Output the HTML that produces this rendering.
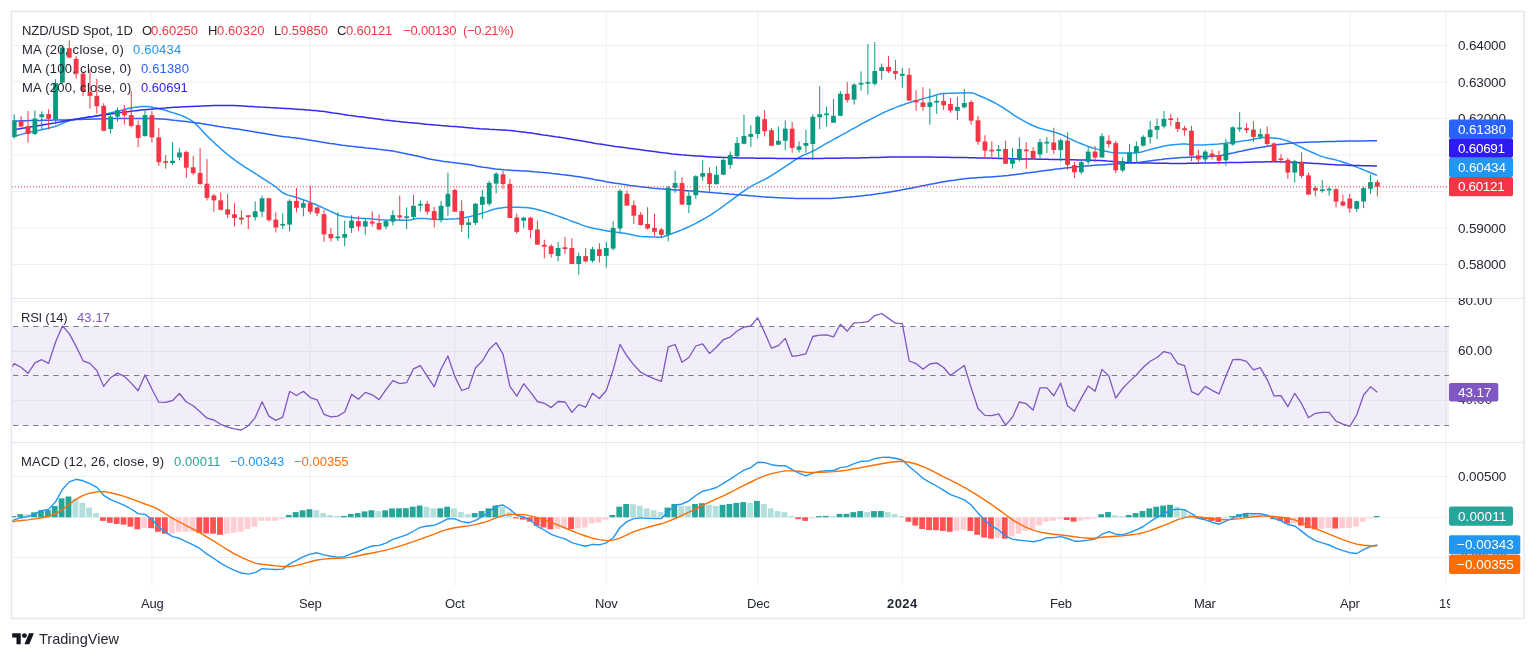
<!DOCTYPE html>
<html><head><meta charset="utf-8"><title>NZD/USD Spot chart</title>
<style>
html,body{margin:0;padding:0;background:#fff;}
body{width:1536px;height:659px;position:relative;overflow:hidden;font-family:"Liberation Sans",sans-serif;}
.t{position:absolute;white-space:pre;line-height:normal;will-change:transform;font-family:"Liberation Sans",sans-serif;}
.w{color:#fff;}
</style></head><body>
<svg width="1536" height="659" viewBox="0 0 1536 659" style="position:absolute;left:0;top:0">
<defs>
<clipPath id="cm"><rect x="12" y="12" width="1437" height="286.5"/></clipPath>
<clipPath id="cr"><rect x="12" y="298.5" width="1437" height="144.10000000000002"/></clipPath>
<clipPath id="cd"><rect x="12" y="442.6" width="1437" height="143.39999999999998"/></clipPath>
</defs>
<rect width="1536" height="659" fill="#fff"/>
<line x1="151.9" y1="12" x2="151.9" y2="586" stroke="#efeff2" stroke-width="1"/>
<line x1="310.2" y1="12" x2="310.2" y2="586" stroke="#efeff2" stroke-width="1"/>
<line x1="454.8" y1="12" x2="454.8" y2="586" stroke="#efeff2" stroke-width="1"/>
<line x1="606.3" y1="12" x2="606.3" y2="586" stroke="#efeff2" stroke-width="1"/>
<line x1="757.7" y1="12" x2="757.7" y2="586" stroke="#efeff2" stroke-width="1"/>
<line x1="902.3" y1="12" x2="902.3" y2="586" stroke="#efeff2" stroke-width="1"/>
<line x1="1060.7" y1="12" x2="1060.7" y2="586" stroke="#efeff2" stroke-width="1"/>
<line x1="1205.2" y1="12" x2="1205.2" y2="586" stroke="#efeff2" stroke-width="1"/>
<line x1="1349.8" y1="12" x2="1349.8" y2="586" stroke="#efeff2" stroke-width="1"/>
<line x1="1445.7" y1="12" x2="1445.7" y2="586" stroke="#efeff2" stroke-width="1"/>
<line x1="12" y1="45.5" x2="1449" y2="45.5" stroke="#efeff2" stroke-width="1"/>
<line x1="12" y1="82.0" x2="1449" y2="82.0" stroke="#efeff2" stroke-width="1"/>
<line x1="12" y1="118.5" x2="1449" y2="118.5" stroke="#efeff2" stroke-width="1"/>
<line x1="12" y1="155.0" x2="1449" y2="155.0" stroke="#efeff2" stroke-width="1"/>
<line x1="12" y1="191.5" x2="1449" y2="191.5" stroke="#efeff2" stroke-width="1"/>
<line x1="12" y1="228.0" x2="1449" y2="228.0" stroke="#efeff2" stroke-width="1"/>
<line x1="12" y1="264.5" x2="1449" y2="264.5" stroke="#efeff2" stroke-width="1"/>
<line x1="12" y1="301.7" x2="1449" y2="301.7" stroke="#efeff2" stroke-width="1"/>
<line x1="12" y1="351.4" x2="1449" y2="351.4" stroke="#efeff2" stroke-width="1"/>
<line x1="12" y1="400.3" x2="1449" y2="400.3" stroke="#efeff2" stroke-width="1"/>
<line x1="12" y1="476.5" x2="1449" y2="476.5" stroke="#efeff2" stroke-width="1"/>
<line x1="12" y1="517.3" x2="1449" y2="517.3" stroke="#efeff2" stroke-width="1"/>
<line x1="12" y1="557.5" x2="1449" y2="557.5" stroke="#efeff2" stroke-width="1"/>
<g clip-path="url(#cm)">
<path d="M12.2,136.8 L15.2,136.0 L18.2,135.2 L21.2,134.4 L24.2,133.6 L27.2,132.9 L30.2,132.2 L33.2,131.6 L36.2,130.9 L39.2,130.2 L42.2,129.6 L45.2,128.9 L48.2,128.2 L51.2,127.5 L54.2,126.7 L57.2,125.7 L60.2,124.4 L63.2,123.0 L66.2,121.7 L69.2,120.8 L72.2,120.1 L75.2,119.5 L78.2,119.1 L81.2,118.6 L84.2,118.1 L87.2,117.6 L90.2,117.0 L93.2,116.5 L96.2,115.9 L99.2,115.4 L102.2,114.8 L105.2,114.1 L108.2,113.5 L111.2,112.8 L114.2,112.1 L117.2,111.4 L120.2,110.6 L123.2,109.8 L126.2,109.0 L129.2,108.3 L132.2,107.7 L135.2,107.3 L138.2,106.9 L141.2,106.6 L144.2,106.4 L147.2,106.4 L150.2,106.8 L153.2,107.4 L156.2,108.0 L159.2,108.7 L162.2,109.5 L165.2,110.3 L168.2,111.2 L171.2,112.2 L174.2,113.1 L177.2,114.0 L180.2,115.1 L183.2,116.2 L186.2,117.6 L189.2,119.2 L192.2,121.1 L195.2,123.5 L198.2,126.4 L201.2,129.6 L204.2,133.0 L207.2,136.1 L210.2,139.0 L213.2,141.8 L216.2,144.6 L219.2,147.3 L222.2,150.0 L225.2,152.6 L228.2,155.0 L231.2,157.4 L234.2,159.7 L237.2,161.8 L240.2,163.9 L243.2,165.9 L246.2,167.8 L249.2,169.7 L252.2,171.6 L255.2,173.5 L258.2,175.5 L261.2,177.4 L264.2,179.3 L267.2,181.2 L270.2,183.1 L273.2,185.1 L276.2,187.2 L279.2,189.9 L282.2,192.4 L285.2,194.0 L288.2,195.1 L291.2,196.0 L294.2,196.8 L297.2,197.7 L300.2,198.7 L303.2,199.8 L306.2,200.8 L309.2,201.9 L312.2,203.1 L315.2,204.3 L318.2,205.7 L321.2,207.0 L324.2,208.4 L327.2,209.7 L330.2,211.1 L333.2,212.5 L336.2,214.0 L339.2,215.2 L342.2,216.1 L345.2,216.7 L348.2,217.1 L351.2,217.4 L354.2,217.7 L357.2,218.0 L360.2,218.2 L363.2,218.4 L366.2,218.6 L369.2,218.8 L372.2,219.1 L375.2,219.3 L378.2,219.6 L381.2,219.8 L384.2,219.9 L387.2,220.0 L390.2,220.1 L393.2,220.1 L396.2,220.1 L399.2,220.2 L402.2,220.2 L405.2,220.2 L408.2,220.1 L411.2,219.7 L414.2,219.1 L417.2,218.6 L420.2,218.4 L423.2,218.5 L426.2,218.6 L429.2,218.9 L432.2,219.1 L435.2,219.3 L438.2,219.4 L441.2,219.4 L444.2,219.3 L447.2,219.2 L450.2,219.1 L453.2,218.9 L456.2,218.7 L459.2,218.4 L462.2,218.1 L465.2,217.6 L468.2,216.9 L471.2,216.2 L474.2,215.4 L477.2,214.6 L480.2,213.8 L483.2,212.9 L486.2,211.9 L489.2,210.8 L492.2,209.8 L495.2,208.9 L498.2,208.3 L501.2,207.9 L504.2,207.6 L507.2,207.3 L510.2,207.2 L513.2,207.2 L516.2,207.3 L519.2,207.3 L522.2,207.4 L525.2,207.5 L528.2,207.7 L531.2,208.2 L534.2,208.8 L537.2,209.5 L540.2,210.3 L543.2,211.1 L546.2,212.0 L549.2,213.0 L552.2,214.0 L555.2,215.1 L558.2,216.1 L561.2,217.2 L564.2,218.3 L567.2,219.4 L570.2,220.6 L573.2,221.7 L576.2,222.8 L579.2,223.9 L582.2,225.1 L585.2,226.1 L588.2,227.0 L591.2,227.8 L594.2,228.4 L597.2,229.1 L600.2,229.6 L603.2,230.2 L606.2,230.7 L609.2,231.2 L612.2,231.7 L615.2,232.1 L618.2,232.5 L621.2,232.9 L624.2,233.3 L627.2,233.8 L630.2,234.4 L633.2,235.1 L636.2,235.7 L639.2,236.2 L642.2,236.5 L645.2,236.7 L648.2,236.8 L651.2,237.0 L654.2,237.1 L657.2,237.2 L660.2,237.2 L663.2,236.8 L666.2,235.7 L669.2,234.6 L672.2,233.5 L675.2,232.4 L678.2,231.3 L681.2,230.1 L684.2,228.8 L687.2,227.5 L690.2,226.1 L693.2,224.6 L696.2,223.1 L699.2,221.5 L702.2,219.9 L705.2,218.2 L708.2,216.4 L711.2,214.6 L714.2,212.6 L717.2,210.5 L720.2,208.4 L723.2,206.2 L726.2,204.0 L729.2,201.8 L732.2,199.7 L735.2,197.4 L738.2,195.2 L741.2,192.9 L744.2,190.8 L747.2,188.8 L750.2,186.9 L753.2,185.2 L756.2,183.7 L759.2,182.2 L762.2,180.7 L765.2,179.1 L768.2,177.5 L771.2,175.7 L774.2,173.8 L777.2,171.8 L780.2,169.8 L783.2,167.8 L786.2,165.8 L789.2,163.8 L792.2,161.8 L795.2,159.9 L798.2,158.0 L801.2,156.3 L804.2,154.9 L807.2,153.7 L810.2,152.4 L813.2,150.9 L816.2,149.3 L819.2,147.6 L822.2,145.9 L825.2,144.1 L828.2,142.4 L831.2,140.8 L834.2,139.1 L837.2,137.5 L840.2,135.9 L843.2,134.2 L846.2,132.6 L849.2,130.9 L852.2,129.2 L855.2,127.6 L858.2,125.9 L861.2,124.2 L864.2,122.6 L867.2,121.0 L870.2,119.4 L873.2,117.8 L876.2,116.3 L879.2,114.8 L882.2,113.3 L885.2,111.9 L888.2,110.6 L891.2,109.3 L894.2,108.1 L897.2,106.9 L900.2,105.7 L903.2,104.7 L906.2,103.6 L909.2,102.7 L912.2,101.8 L915.2,100.9 L918.2,100.1 L921.2,99.2 L924.2,98.4 L927.2,97.6 L930.2,96.8 L933.2,96.0 L936.2,95.0 L939.2,94.1 L942.2,93.5 L945.2,93.4 L948.2,93.3 L951.2,93.2 L954.2,93.2 L957.2,93.1 L960.2,93.0 L963.2,92.9 L966.2,92.8 L969.2,92.7 L972.2,92.9 L975.2,93.9 L978.2,95.3 L981.2,96.5 L984.2,97.8 L987.2,99.1 L990.2,100.5 L993.2,102.0 L996.2,103.6 L999.2,105.3 L1002.2,107.1 L1005.2,109.1 L1008.2,111.2 L1011.2,113.2 L1014.2,115.3 L1017.2,117.2 L1020.2,118.9 L1023.2,120.6 L1026.2,122.2 L1029.2,123.8 L1032.2,125.2 L1035.2,126.5 L1038.2,127.7 L1041.2,128.6 L1044.2,129.5 L1047.2,130.3 L1050.2,131.0 L1053.2,131.8 L1056.2,132.7 L1059.2,133.7 L1062.2,134.9 L1065.2,136.3 L1068.2,137.8 L1071.2,139.3 L1074.2,140.8 L1077.2,142.1 L1080.2,143.3 L1083.2,144.5 L1086.2,145.6 L1089.2,146.7 L1092.2,147.7 L1095.2,148.6 L1098.2,149.4 L1101.2,150.1 L1104.2,150.9 L1107.2,151.6 L1110.2,152.2 L1113.2,152.7 L1116.2,152.9 L1119.2,153.0 L1122.2,153.0 L1125.2,153.0 L1128.2,153.0 L1131.2,153.0 L1134.2,153.0 L1137.2,152.8 L1140.2,152.2 L1143.2,151.5 L1146.2,150.6 L1149.2,149.7 L1152.2,148.9 L1155.2,148.2 L1158.2,147.5 L1161.2,146.7 L1164.2,145.9 L1167.2,145.4 L1170.2,145.0 L1173.2,144.7 L1176.2,144.5 L1179.2,144.3 L1182.2,144.1 L1185.2,144.1 L1188.2,144.3 L1191.2,144.6 L1194.2,145.0 L1197.2,145.1 L1200.2,145.1 L1203.2,145.0 L1206.2,144.8 L1209.2,144.6 L1212.2,144.4 L1215.2,144.2 L1218.2,144.0 L1221.2,143.7 L1224.2,143.4 L1227.2,143.1 L1230.2,142.7 L1233.2,142.3 L1236.2,141.9 L1239.2,141.5 L1242.2,141.1 L1245.2,140.6 L1248.2,140.2 L1251.2,139.7 L1254.2,139.1 L1257.2,138.5 L1260.2,137.9 L1263.2,137.6 L1266.2,137.6 L1269.2,137.8 L1272.2,138.0 L1275.2,138.2 L1278.2,138.6 L1281.2,139.1 L1284.2,139.9 L1287.2,140.8 L1290.2,141.9 L1293.2,143.3 L1296.2,144.8 L1299.2,146.4 L1302.2,147.8 L1305.2,149.2 L1308.2,150.6 L1311.2,152.0 L1314.2,153.3 L1317.2,154.6 L1320.2,155.9 L1323.2,156.9 L1326.2,157.8 L1329.2,158.5 L1332.2,159.1 L1335.2,159.8 L1338.2,160.6 L1341.2,161.5 L1344.2,162.5 L1347.2,163.5 L1350.2,164.6 L1353.2,165.7 L1356.2,166.8 L1359.2,168.1 L1362.2,169.3 L1365.2,170.6 L1368.2,171.8 L1371.2,173.0 L1374.2,174.2 L1377.0,175.3" fill="none" stroke="#2196f3" stroke-width="1.5" stroke-linejoin="round" stroke-linecap="butt"/>
<path d="M12.2,121.0 L15.2,120.9 L18.2,120.9 L21.2,120.8 L24.2,120.7 L27.2,120.7 L30.2,120.6 L33.2,120.5 L36.2,120.5 L39.2,120.4 L42.2,120.3 L45.2,120.3 L48.2,120.2 L51.2,120.2 L54.2,120.1 L57.2,120.0 L60.2,120.0 L63.2,119.9 L66.2,119.9 L69.2,119.8 L72.2,119.7 L75.2,119.6 L78.2,119.5 L81.2,119.4 L84.2,119.3 L87.2,119.2 L90.2,119.2 L93.2,119.1 L96.2,119.0 L99.2,118.9 L102.2,118.8 L105.2,118.7 L108.2,118.7 L111.2,118.6 L114.2,118.6 L117.2,118.5 L120.2,118.5 L123.2,118.4 L126.2,118.4 L129.2,118.4 L132.2,118.4 L135.2,118.4 L138.2,118.4 L141.2,118.4 L144.2,118.5 L147.2,118.5 L150.2,118.5 L153.2,118.6 L156.2,118.7 L159.2,118.9 L162.2,119.1 L165.2,119.3 L168.2,119.6 L171.2,119.9 L174.2,120.3 L177.2,120.6 L180.2,120.9 L183.2,121.2 L186.2,121.6 L189.2,122.0 L192.2,122.3 L195.2,122.7 L198.2,123.1 L201.2,123.6 L204.2,124.0 L207.2,124.5 L210.2,125.0 L213.2,125.5 L216.2,126.0 L219.2,126.5 L222.2,126.9 L225.2,127.4 L228.2,127.8 L231.2,128.3 L234.2,128.7 L237.2,129.1 L240.2,129.5 L243.2,130.0 L246.2,130.5 L249.2,131.0 L252.2,131.5 L255.2,132.1 L258.2,132.6 L261.2,133.1 L264.2,133.6 L267.2,134.1 L270.2,134.6 L273.2,135.1 L276.2,135.6 L279.2,136.0 L282.2,136.4 L285.2,136.8 L288.2,137.1 L291.2,137.5 L294.2,137.8 L297.2,138.2 L300.2,138.6 L303.2,139.1 L306.2,139.5 L309.2,140.0 L312.2,140.5 L315.2,141.0 L318.2,141.5 L321.2,142.0 L324.2,142.4 L327.2,142.9 L330.2,143.4 L333.2,143.8 L336.2,144.3 L339.2,144.7 L342.2,145.2 L345.2,145.5 L348.2,145.9 L351.2,146.3 L354.2,146.6 L357.2,146.9 L360.2,147.2 L363.2,147.5 L366.2,147.9 L369.2,148.2 L372.2,148.5 L375.2,148.8 L378.2,149.2 L381.2,149.5 L384.2,149.9 L387.2,150.3 L390.2,150.7 L393.2,151.1 L396.2,151.7 L399.2,152.2 L402.2,152.9 L405.2,153.5 L408.2,154.2 L411.2,154.8 L414.2,155.5 L417.2,156.1 L420.2,156.8 L423.2,157.5 L426.2,158.3 L429.2,158.9 L432.2,159.6 L435.2,160.1 L438.2,160.6 L441.2,161.1 L444.2,161.5 L447.2,161.8 L450.2,162.2 L453.2,162.5 L456.2,162.9 L459.2,163.3 L462.2,163.7 L465.2,164.1 L468.2,164.6 L471.2,165.1 L474.2,165.6 L477.2,166.2 L480.2,166.7 L483.2,167.2 L486.2,167.6 L489.2,168.1 L492.2,168.5 L495.2,168.9 L498.2,169.2 L501.2,169.5 L504.2,169.8 L507.2,170.0 L510.2,170.2 L513.2,170.4 L516.2,170.6 L519.2,170.8 L522.2,171.0 L525.2,171.1 L528.2,171.3 L531.2,171.5 L534.2,171.8 L537.2,172.0 L540.2,172.3 L543.2,172.5 L546.2,172.8 L549.2,173.1 L552.2,173.5 L555.2,173.8 L558.2,174.1 L561.2,174.5 L564.2,174.8 L567.2,175.2 L570.2,175.6 L573.2,176.0 L576.2,176.4 L579.2,176.8 L582.2,177.3 L585.2,177.7 L588.2,178.3 L591.2,178.8 L594.2,179.4 L597.2,179.9 L600.2,180.5 L603.2,181.1 L606.2,181.7 L609.2,182.2 L612.2,182.7 L615.2,183.2 L618.2,183.6 L621.2,184.1 L624.2,184.5 L627.2,184.9 L630.2,185.4 L633.2,185.8 L636.2,186.2 L639.2,186.6 L642.2,186.9 L645.2,187.3 L648.2,187.6 L651.2,188.0 L654.2,188.3 L657.2,188.5 L660.2,188.8 L663.2,189.0 L666.2,189.3 L669.2,189.5 L672.2,189.7 L675.2,189.9 L678.2,190.1 L681.2,190.3 L684.2,190.5 L687.2,190.7 L690.2,190.9 L693.2,191.1 L696.2,191.4 L699.2,191.6 L702.2,191.8 L705.2,192.0 L708.2,192.3 L711.2,192.5 L714.2,192.8 L717.2,193.0 L720.2,193.2 L723.2,193.5 L726.2,193.7 L729.2,194.0 L732.2,194.2 L735.2,194.5 L738.2,194.7 L741.2,195.0 L744.2,195.2 L747.2,195.5 L750.2,195.8 L753.2,196.0 L756.2,196.3 L759.2,196.5 L762.2,196.8 L765.2,197.0 L768.2,197.2 L771.2,197.3 L774.2,197.5 L777.2,197.7 L780.2,197.8 L783.2,198.0 L786.2,198.1 L789.2,198.2 L792.2,198.3 L795.2,198.4 L798.2,198.4 L801.2,198.4 L804.2,198.4 L807.2,198.4 L810.2,198.4 L813.2,198.4 L816.2,198.4 L819.2,198.4 L822.2,198.4 L825.2,198.4 L828.2,198.4 L831.2,198.4 L834.2,198.2 L837.2,198.0 L840.2,197.8 L843.2,197.6 L846.2,197.3 L849.2,197.1 L852.2,196.8 L855.2,196.6 L858.2,196.2 L861.2,195.9 L864.2,195.6 L867.2,195.2 L870.2,194.9 L873.2,194.5 L876.2,194.1 L879.2,193.6 L882.2,193.2 L885.2,192.7 L888.2,192.2 L891.2,191.7 L894.2,191.2 L897.2,190.7 L900.2,190.2 L903.2,189.6 L906.2,189.0 L909.2,188.5 L912.2,187.9 L915.2,187.3 L918.2,186.7 L921.2,186.1 L924.2,185.5 L927.2,184.9 L930.2,184.3 L933.2,183.8 L936.2,183.2 L939.2,182.6 L942.2,182.1 L945.2,181.6 L948.2,181.1 L951.2,180.6 L954.2,180.2 L957.2,179.7 L960.2,179.3 L963.2,178.9 L966.2,178.6 L969.2,178.3 L972.2,178.1 L975.2,177.9 L978.2,177.6 L981.2,177.5 L984.2,177.3 L987.2,177.1 L990.2,176.9 L993.2,176.7 L996.2,176.5 L999.2,176.3 L1002.2,176.1 L1005.2,175.8 L1008.2,175.5 L1011.2,175.1 L1014.2,174.7 L1017.2,174.3 L1020.2,173.9 L1023.2,173.5 L1026.2,173.1 L1029.2,172.7 L1032.2,172.3 L1035.2,171.9 L1038.2,171.5 L1041.2,171.1 L1044.2,170.7 L1047.2,170.3 L1050.2,169.9 L1053.2,169.5 L1056.2,169.1 L1059.2,168.8 L1062.2,168.4 L1065.2,168.1 L1068.2,167.8 L1071.2,167.4 L1074.2,167.1 L1077.2,166.8 L1080.2,166.5 L1083.2,166.3 L1086.2,166.0 L1089.2,165.7 L1092.2,165.5 L1095.2,165.3 L1098.2,165.1 L1101.2,164.9 L1104.2,164.7 L1107.2,164.5 L1110.2,164.3 L1113.2,164.1 L1116.2,163.9 L1119.2,163.7 L1122.2,163.5 L1125.2,163.3 L1128.2,163.1 L1131.2,162.9 L1134.2,162.7 L1137.2,162.5 L1140.2,162.2 L1143.2,161.8 L1146.2,161.4 L1149.2,161.0 L1152.2,160.6 L1155.2,160.2 L1158.2,159.8 L1161.2,159.5 L1164.2,159.1 L1167.2,158.8 L1170.2,158.5 L1173.2,158.2 L1176.2,158.0 L1179.2,157.8 L1182.2,157.6 L1185.2,157.4 L1188.2,157.3 L1191.2,157.2 L1194.2,157.0 L1197.2,156.9 L1200.2,156.8 L1203.2,156.6 L1206.2,156.5 L1209.2,156.4 L1212.2,156.2 L1215.2,156.0 L1218.2,155.8 L1221.2,155.4 L1224.2,154.8 L1227.2,154.2 L1230.2,153.5 L1233.2,152.9 L1236.2,152.2 L1239.2,151.6 L1242.2,151.0 L1245.2,150.3 L1248.2,149.7 L1251.2,149.1 L1254.2,148.5 L1257.2,147.9 L1260.2,147.4 L1263.2,146.9 L1266.2,146.4 L1269.2,145.9 L1272.2,145.4 L1275.2,145.0 L1278.2,144.6 L1281.2,144.2 L1284.2,143.9 L1287.2,143.5 L1290.2,143.2 L1293.2,142.9 L1296.2,142.7 L1299.2,142.6 L1302.2,142.5 L1305.2,142.3 L1308.2,142.2 L1311.2,142.1 L1314.2,142.0 L1317.2,141.9 L1320.2,141.8 L1323.2,141.7 L1326.2,141.6 L1329.2,141.5 L1332.2,141.5 L1335.2,141.4 L1338.2,141.3 L1341.2,141.2 L1344.2,141.2 L1347.2,141.1 L1350.2,141.1 L1353.2,141.0 L1356.2,141.0 L1359.2,140.9 L1362.2,140.9 L1365.2,140.9 L1368.2,140.8 L1371.2,140.8 L1374.2,140.8 L1377.0,140.8" fill="none" stroke="#2962ff" stroke-width="1.5" stroke-linejoin="round" stroke-linecap="butt"/>
<path d="M12.2,130.0 L15.2,129.5 L18.2,129.1 L21.2,128.6 L24.2,128.1 L27.2,127.6 L30.2,127.1 L33.2,126.6 L36.2,126.1 L39.2,125.6 L42.2,125.1 L45.2,124.6 L48.2,124.1 L51.2,123.5 L54.2,123.0 L57.2,122.4 L60.2,121.9 L63.2,121.3 L66.2,120.8 L69.2,120.2 L72.2,119.7 L75.2,119.2 L78.2,118.7 L81.2,118.2 L84.2,117.8 L87.2,117.3 L90.2,116.8 L93.2,116.4 L96.2,115.9 L99.2,115.5 L102.2,115.1 L105.2,114.7 L108.2,114.2 L111.2,113.8 L114.2,113.4 L117.2,113.0 L120.2,112.6 L123.2,112.3 L126.2,111.9 L129.2,111.5 L132.2,111.1 L135.2,110.8 L138.2,110.4 L141.2,110.1 L144.2,109.8 L147.2,109.5 L150.2,109.2 L153.2,108.9 L156.2,108.7 L159.2,108.4 L162.2,108.2 L165.2,108.0 L168.2,107.7 L171.2,107.5 L174.2,107.3 L177.2,107.2 L180.2,107.0 L183.2,106.8 L186.2,106.7 L189.2,106.5 L192.2,106.4 L195.2,106.3 L198.2,106.2 L201.2,106.0 L204.2,105.9 L207.2,105.8 L210.2,105.7 L213.2,105.6 L216.2,105.5 L219.2,105.5 L222.2,105.4 L225.2,105.4 L228.2,105.4 L231.2,105.5 L234.2,105.5 L237.2,105.7 L240.2,105.8 L243.2,106.0 L246.2,106.2 L249.2,106.4 L252.2,106.6 L255.2,106.8 L258.2,106.9 L261.2,107.1 L264.2,107.2 L267.2,107.4 L270.2,107.6 L273.2,107.7 L276.2,107.9 L279.2,108.1 L282.2,108.2 L285.2,108.4 L288.2,108.6 L291.2,108.8 L294.2,109.0 L297.2,109.2 L300.2,109.4 L303.2,109.6 L306.2,109.9 L309.2,110.1 L312.2,110.4 L315.2,110.6 L318.2,110.9 L321.2,111.2 L324.2,111.6 L327.2,112.0 L330.2,112.4 L333.2,112.9 L336.2,113.3 L339.2,113.8 L342.2,114.3 L345.2,114.7 L348.2,115.2 L351.2,115.6 L354.2,116.0 L357.2,116.4 L360.2,116.7 L363.2,117.1 L366.2,117.5 L369.2,117.9 L372.2,118.3 L375.2,118.7 L378.2,119.1 L381.2,119.5 L384.2,119.9 L387.2,120.2 L390.2,120.6 L393.2,120.9 L396.2,121.3 L399.2,121.6 L402.2,121.9 L405.2,122.2 L408.2,122.5 L411.2,122.7 L414.2,123.0 L417.2,123.3 L420.2,123.6 L423.2,123.9 L426.2,124.2 L429.2,124.4 L432.2,124.7 L435.2,125.0 L438.2,125.2 L441.2,125.5 L444.2,125.7 L447.2,125.9 L450.2,126.2 L453.2,126.4 L456.2,126.6 L459.2,126.9 L462.2,127.1 L465.2,127.4 L468.2,127.7 L471.2,128.0 L474.2,128.3 L477.2,128.5 L480.2,128.8 L483.2,129.0 L486.2,129.1 L489.2,129.3 L492.2,129.4 L495.2,129.6 L498.2,129.7 L501.2,129.9 L504.2,130.0 L507.2,130.3 L510.2,130.5 L513.2,130.8 L516.2,131.2 L519.2,131.5 L522.2,131.9 L525.2,132.3 L528.2,132.7 L531.2,133.1 L534.2,133.5 L537.2,133.9 L540.2,134.4 L543.2,134.9 L546.2,135.3 L549.2,135.8 L552.2,136.2 L555.2,136.7 L558.2,137.1 L561.2,137.5 L564.2,138.0 L567.2,138.4 L570.2,138.9 L573.2,139.4 L576.2,139.9 L579.2,140.4 L582.2,141.0 L585.2,141.5 L588.2,142.1 L591.2,142.6 L594.2,143.2 L597.2,143.7 L600.2,144.1 L603.2,144.6 L606.2,145.1 L609.2,145.5 L612.2,145.9 L615.2,146.4 L618.2,146.8 L621.2,147.2 L624.2,147.6 L627.2,148.0 L630.2,148.4 L633.2,148.8 L636.2,149.2 L639.2,149.6 L642.2,150.0 L645.2,150.4 L648.2,150.8 L651.2,151.2 L654.2,151.6 L657.2,152.0 L660.2,152.4 L663.2,152.8 L666.2,153.1 L669.2,153.5 L672.2,153.9 L675.2,154.2 L678.2,154.5 L681.2,154.8 L684.2,155.0 L687.2,155.3 L690.2,155.5 L693.2,155.7 L696.2,155.9 L699.2,156.1 L702.2,156.3 L705.2,156.5 L708.2,156.7 L711.2,156.9 L714.2,157.0 L717.2,157.2 L720.2,157.3 L723.2,157.4 L726.2,157.5 L729.2,157.6 L732.2,157.7 L735.2,157.8 L738.2,157.9 L741.2,157.9 L744.2,158.0 L747.2,158.0 L750.2,158.1 L753.2,158.1 L756.2,158.2 L759.2,158.2 L762.2,158.2 L765.2,158.3 L768.2,158.3 L771.2,158.3 L774.2,158.3 L777.2,158.4 L780.2,158.4 L783.2,158.4 L786.2,158.5 L789.2,158.5 L792.2,158.5 L795.2,158.5 L798.2,158.5 L801.2,158.5 L804.2,158.5 L807.2,158.5 L810.2,158.5 L813.2,158.4 L816.2,158.4 L819.2,158.4 L822.2,158.4 L825.2,158.3 L828.2,158.3 L831.2,158.3 L834.2,158.2 L837.2,158.2 L840.2,158.2 L843.2,158.1 L846.2,158.1 L849.2,158.0 L852.2,158.0 L855.2,157.9 L858.2,157.9 L861.2,157.8 L864.2,157.8 L867.2,157.7 L870.2,157.6 L873.2,157.6 L876.2,157.5 L879.2,157.4 L882.2,157.3 L885.2,157.2 L888.2,157.1 L891.2,157.1 L894.2,157.0 L897.2,156.9 L900.2,156.9 L903.2,156.9 L906.2,156.9 L909.2,156.9 L912.2,156.9 L915.2,156.9 L918.2,157.0 L921.2,157.0 L924.2,157.0 L927.2,157.1 L930.2,157.1 L933.2,157.1 L936.2,157.2 L939.2,157.2 L942.2,157.2 L945.2,157.3 L948.2,157.3 L951.2,157.4 L954.2,157.4 L957.2,157.5 L960.2,157.5 L963.2,157.6 L966.2,157.6 L969.2,157.7 L972.2,157.7 L975.2,157.8 L978.2,157.9 L981.2,157.9 L984.2,158.0 L987.2,158.1 L990.2,158.1 L993.2,158.2 L996.2,158.3 L999.2,158.4 L1002.2,158.5 L1005.2,158.6 L1008.2,158.6 L1011.2,158.7 L1014.2,158.8 L1017.2,158.9 L1020.2,158.9 L1023.2,159.0 L1026.2,159.0 L1029.2,159.1 L1032.2,159.1 L1035.2,159.1 L1038.2,159.2 L1041.2,159.2 L1044.2,159.3 L1047.2,159.3 L1050.2,159.4 L1053.2,159.4 L1056.2,159.5 L1059.2,159.5 L1062.2,159.6 L1065.2,159.6 L1068.2,159.7 L1071.2,159.7 L1074.2,159.8 L1077.2,159.9 L1080.2,159.9 L1083.2,160.0 L1086.2,160.1 L1089.2,160.2 L1092.2,160.3 L1095.2,160.4 L1098.2,160.5 L1101.2,160.6 L1104.2,160.8 L1107.2,161.1 L1110.2,161.3 L1113.2,161.6 L1116.2,161.8 L1119.2,162.0 L1122.2,162.1 L1125.2,162.3 L1128.2,162.4 L1131.2,162.6 L1134.2,162.7 L1137.2,162.8 L1140.2,162.9 L1143.2,162.9 L1146.2,163.0 L1149.2,163.1 L1152.2,163.1 L1155.2,163.2 L1158.2,163.2 L1161.2,163.3 L1164.2,163.3 L1167.2,163.3 L1170.2,163.4 L1173.2,163.4 L1176.2,163.4 L1179.2,163.4 L1182.2,163.4 L1185.2,163.4 L1188.2,163.3 L1191.2,163.3 L1194.2,163.2 L1197.2,163.2 L1200.2,163.1 L1203.2,163.1 L1206.2,163.0 L1209.2,162.9 L1212.2,162.9 L1215.2,162.8 L1218.2,162.8 L1221.2,162.7 L1224.2,162.7 L1227.2,162.6 L1230.2,162.6 L1233.2,162.5 L1236.2,162.5 L1239.2,162.4 L1242.2,162.4 L1245.2,162.3 L1248.2,162.3 L1251.2,162.2 L1254.2,162.1 L1257.2,162.1 L1260.2,162.0 L1263.2,161.9 L1266.2,161.8 L1269.2,161.8 L1272.2,161.7 L1275.2,161.7 L1278.2,161.7 L1281.2,161.8 L1284.2,161.9 L1287.2,162.1 L1290.2,162.2 L1293.2,162.4 L1296.2,162.5 L1299.2,162.7 L1302.2,162.8 L1305.2,163.0 L1308.2,163.1 L1311.2,163.3 L1314.2,163.5 L1317.2,163.6 L1320.2,163.8 L1323.2,164.0 L1326.2,164.2 L1329.2,164.4 L1332.2,164.6 L1335.2,164.7 L1338.2,164.9 L1341.2,165.0 L1344.2,165.1 L1347.2,165.3 L1350.2,165.4 L1353.2,165.5 L1356.2,165.5 L1359.2,165.6 L1362.2,165.7 L1365.2,165.7 L1368.2,165.8 L1371.2,165.8 L1374.2,165.9 L1377.0,165.9" fill="none" stroke="#3829f2" stroke-width="1.5" stroke-linejoin="round" stroke-linecap="butt"/>
<rect x="13.71" y="114.3" width="1" height="24.5" fill="#089981"/>
<rect x="11.81" y="120.6" width="4.8" height="16.2" fill="#089981"/>
<rect x="20.59" y="116.1" width="1" height="11.4" fill="#f23645"/>
<rect x="18.69" y="121.2" width="4.8" height="5.3" fill="#f23645"/>
<rect x="27.48" y="111.1" width="1" height="31.6" fill="#f23645"/>
<rect x="25.58" y="126.1" width="4.8" height="7.9" fill="#f23645"/>
<rect x="34.36" y="110.3" width="1" height="24.7" fill="#089981"/>
<rect x="32.46" y="118.6" width="4.8" height="15.4" fill="#089981"/>
<rect x="41.25" y="111.3" width="1" height="18.5" fill="#089981"/>
<rect x="39.35" y="114.3" width="4.8" height="2.8" fill="#089981"/>
<rect x="48.13" y="109.2" width="1" height="20.3" fill="#f23645"/>
<rect x="46.23" y="114.1" width="4.8" height="4.7" fill="#f23645"/>
<rect x="55.02" y="79.2" width="1" height="45.0" fill="#089981"/>
<rect x="53.12" y="83.1" width="4.8" height="36.5" fill="#089981"/>
<rect x="61.90" y="46.6" width="1" height="36.5" fill="#089981"/>
<rect x="60.00" y="47.6" width="4.8" height="35.1" fill="#089981"/>
<rect x="68.79" y="40.3" width="1" height="18.1" fill="#f23645"/>
<rect x="66.89" y="48.2" width="4.8" height="9.3" fill="#f23645"/>
<rect x="75.67" y="56.1" width="1" height="22.5" fill="#f23645"/>
<rect x="73.77" y="58.9" width="4.8" height="14.8" fill="#f23645"/>
<rect x="82.56" y="71.7" width="1" height="24.3" fill="#f23645"/>
<rect x="80.66" y="73.6" width="4.8" height="17.8" fill="#f23645"/>
<rect x="89.44" y="69.3" width="1" height="39.4" fill="#f23645"/>
<rect x="87.54" y="92.0" width="4.8" height="3.9" fill="#f23645"/>
<rect x="96.32" y="78.8" width="1" height="34.9" fill="#f23645"/>
<rect x="94.42" y="95.9" width="4.8" height="10.3" fill="#f23645"/>
<rect x="103.21" y="103.2" width="1" height="28.2" fill="#f23645"/>
<rect x="101.31" y="105.8" width="4.8" height="25.0" fill="#f23645"/>
<rect x="110.09" y="112.3" width="1" height="21.3" fill="#089981"/>
<rect x="108.19" y="116.6" width="4.8" height="12.4" fill="#089981"/>
<rect x="116.98" y="107.4" width="1" height="14.2" fill="#089981"/>
<rect x="115.08" y="110.1" width="4.8" height="6.5" fill="#089981"/>
<rect x="123.86" y="104.8" width="1" height="19.7" fill="#f23645"/>
<rect x="121.96" y="110.3" width="4.8" height="4.9" fill="#f23645"/>
<rect x="130.75" y="91.0" width="1" height="36.5" fill="#f23645"/>
<rect x="128.85" y="115.1" width="4.8" height="10.8" fill="#f23645"/>
<rect x="137.63" y="120.6" width="1" height="26.6" fill="#f23645"/>
<rect x="135.73" y="125.1" width="4.8" height="12.8" fill="#f23645"/>
<rect x="144.52" y="108.8" width="1" height="28.0" fill="#089981"/>
<rect x="142.62" y="115.1" width="4.8" height="20.9" fill="#089981"/>
<rect x="151.40" y="111.1" width="1" height="31.6" fill="#f23645"/>
<rect x="149.50" y="115.1" width="4.8" height="22.3" fill="#f23645"/>
<rect x="158.28" y="127.9" width="1" height="37.9" fill="#f23645"/>
<rect x="156.38" y="137.4" width="4.8" height="24.7" fill="#f23645"/>
<rect x="165.17" y="155.1" width="1" height="13.6" fill="#f23645"/>
<rect x="163.27" y="161.2" width="4.8" height="1.7" fill="#f23645"/>
<rect x="172.05" y="142.3" width="1" height="22.7" fill="#089981"/>
<rect x="170.15" y="160.8" width="4.8" height="2.2" fill="#089981"/>
<rect x="178.94" y="148.2" width="1" height="12.2" fill="#089981"/>
<rect x="177.04" y="152.5" width="4.8" height="4.9" fill="#089981"/>
<rect x="185.82" y="150.6" width="1" height="27.2" fill="#f23645"/>
<rect x="183.92" y="152.1" width="4.8" height="15.6" fill="#f23645"/>
<rect x="192.71" y="156.1" width="1" height="18.7" fill="#f23645"/>
<rect x="190.81" y="167.3" width="4.8" height="5.9" fill="#f23645"/>
<rect x="199.59" y="148.2" width="1" height="36.5" fill="#f23645"/>
<rect x="197.69" y="172.9" width="4.8" height="11.2" fill="#f23645"/>
<rect x="206.48" y="159.1" width="1" height="41.4" fill="#f23645"/>
<rect x="204.58" y="183.7" width="4.8" height="14.2" fill="#f23645"/>
<rect x="213.36" y="194.0" width="1" height="17.8" fill="#f23645"/>
<rect x="211.46" y="195.5" width="4.8" height="4.9" fill="#f23645"/>
<rect x="220.25" y="192.4" width="1" height="17.9" fill="#f23645"/>
<rect x="218.34" y="200.3" width="4.8" height="9.5" fill="#f23645"/>
<rect x="227.13" y="194.0" width="1" height="24.1" fill="#f23645"/>
<rect x="225.23" y="209.3" width="4.8" height="5.3" fill="#f23645"/>
<rect x="234.01" y="203.2" width="1" height="23.3" fill="#f23645"/>
<rect x="232.11" y="214.3" width="4.8" height="3.7" fill="#f23645"/>
<rect x="240.90" y="210.3" width="1" height="14.2" fill="#f23645"/>
<rect x="239.00" y="217.6" width="4.8" height="2.0" fill="#f23645"/>
<rect x="247.78" y="215.3" width="1" height="13.8" fill="#f23645"/>
<rect x="245.88" y="215.3" width="4.8" height="1.8" fill="#f23645"/>
<rect x="254.67" y="201.3" width="1" height="19.3" fill="#089981"/>
<rect x="252.77" y="211.3" width="4.8" height="5.9" fill="#089981"/>
<rect x="261.55" y="195.5" width="1" height="21.7" fill="#089981"/>
<rect x="259.65" y="198.3" width="4.8" height="13.4" fill="#089981"/>
<rect x="268.44" y="197.5" width="1" height="24.1" fill="#f23645"/>
<rect x="266.54" y="198.3" width="4.8" height="21.9" fill="#f23645"/>
<rect x="275.32" y="212.3" width="1" height="20.1" fill="#f23645"/>
<rect x="273.42" y="219.6" width="4.8" height="7.9" fill="#f23645"/>
<rect x="282.21" y="213.1" width="1" height="16.0" fill="#089981"/>
<rect x="280.31" y="223.9" width="4.8" height="1.7" fill="#089981"/>
<rect x="289.09" y="199.3" width="1" height="32.1" fill="#089981"/>
<rect x="287.19" y="200.9" width="4.8" height="23.7" fill="#089981"/>
<rect x="295.97" y="188.0" width="1" height="24.3" fill="#f23645"/>
<rect x="294.07" y="200.9" width="4.8" height="6.9" fill="#f23645"/>
<rect x="302.86" y="199.5" width="1" height="16.8" fill="#089981"/>
<rect x="300.96" y="203.2" width="4.8" height="4.5" fill="#089981"/>
<rect x="309.74" y="185.7" width="1" height="28.6" fill="#f23645"/>
<rect x="307.84" y="202.8" width="4.8" height="8.9" fill="#f23645"/>
<rect x="316.63" y="206.8" width="1" height="9.5" fill="#f23645"/>
<rect x="314.73" y="207.4" width="4.8" height="5.9" fill="#f23645"/>
<rect x="323.51" y="209.7" width="1" height="32.1" fill="#f23645"/>
<rect x="321.61" y="214.1" width="4.8" height="20.3" fill="#f23645"/>
<rect x="330.40" y="227.9" width="1" height="13.8" fill="#f23645"/>
<rect x="328.50" y="234.0" width="4.8" height="4.3" fill="#f23645"/>
<rect x="337.28" y="212.1" width="1" height="28.8" fill="#089981"/>
<rect x="335.38" y="236.6" width="4.8" height="1.7" fill="#089981"/>
<rect x="344.17" y="220.6" width="1" height="25.6" fill="#089981"/>
<rect x="342.27" y="234.0" width="4.8" height="3.7" fill="#089981"/>
<rect x="351.05" y="215.3" width="1" height="17.6" fill="#089981"/>
<rect x="349.15" y="220.6" width="4.8" height="7.5" fill="#089981"/>
<rect x="357.94" y="216.6" width="1" height="14.4" fill="#f23645"/>
<rect x="356.04" y="221.2" width="4.8" height="5.3" fill="#f23645"/>
<rect x="364.82" y="218.0" width="1" height="16.8" fill="#089981"/>
<rect x="362.92" y="221.2" width="4.8" height="5.3" fill="#089981"/>
<rect x="371.70" y="211.3" width="1" height="15.2" fill="#f23645"/>
<rect x="369.80" y="221.6" width="4.8" height="2.0" fill="#f23645"/>
<rect x="378.59" y="214.3" width="1" height="15.8" fill="#f23645"/>
<rect x="376.69" y="223.0" width="4.8" height="6.5" fill="#f23645"/>
<rect x="385.47" y="220.0" width="1" height="9.1" fill="#089981"/>
<rect x="383.57" y="221.2" width="4.8" height="5.3" fill="#089981"/>
<rect x="392.36" y="210.3" width="1" height="15.2" fill="#089981"/>
<rect x="390.46" y="215.1" width="4.8" height="6.5" fill="#089981"/>
<rect x="399.24" y="195.5" width="1" height="24.5" fill="#f23645"/>
<rect x="397.34" y="215.3" width="4.8" height="2.0" fill="#f23645"/>
<rect x="406.13" y="207.4" width="1" height="21.7" fill="#089981"/>
<rect x="404.23" y="216.3" width="4.8" height="1.7" fill="#089981"/>
<rect x="413.01" y="195.0" width="1" height="24.3" fill="#089981"/>
<rect x="411.11" y="205.8" width="4.8" height="11.2" fill="#089981"/>
<rect x="419.90" y="200.3" width="1" height="11.0" fill="#089981"/>
<rect x="418.00" y="203.9" width="4.8" height="1.7" fill="#089981"/>
<rect x="426.78" y="200.9" width="1" height="13.6" fill="#f23645"/>
<rect x="424.88" y="203.8" width="4.8" height="7.9" fill="#f23645"/>
<rect x="433.66" y="206.8" width="1" height="20.7" fill="#f23645"/>
<rect x="431.76" y="211.1" width="4.8" height="8.9" fill="#f23645"/>
<rect x="440.55" y="200.9" width="1" height="21.7" fill="#089981"/>
<rect x="438.65" y="205.8" width="4.8" height="14.2" fill="#089981"/>
<rect x="447.43" y="172.7" width="1" height="43.0" fill="#089981"/>
<rect x="445.53" y="193.8" width="4.8" height="12.8" fill="#089981"/>
<rect x="454.32" y="188.5" width="1" height="23.3" fill="#f23645"/>
<rect x="452.42" y="190.0" width="4.8" height="21.7" fill="#f23645"/>
<rect x="461.20" y="200.3" width="1" height="31.6" fill="#f23645"/>
<rect x="459.30" y="211.1" width="4.8" height="13.8" fill="#f23645"/>
<rect x="468.09" y="218.4" width="1" height="20.3" fill="#089981"/>
<rect x="466.19" y="222.4" width="4.8" height="2.6" fill="#089981"/>
<rect x="474.97" y="202.9" width="1" height="22.1" fill="#089981"/>
<rect x="473.07" y="203.8" width="4.8" height="19.1" fill="#089981"/>
<rect x="481.86" y="190.0" width="1" height="29.0" fill="#089981"/>
<rect x="479.96" y="196.7" width="4.8" height="8.1" fill="#089981"/>
<rect x="488.74" y="181.0" width="1" height="24.7" fill="#089981"/>
<rect x="486.84" y="182.9" width="4.8" height="20.9" fill="#089981"/>
<rect x="495.62" y="172.3" width="1" height="21.1" fill="#089981"/>
<rect x="493.73" y="173.7" width="4.8" height="9.9" fill="#089981"/>
<rect x="502.51" y="170.7" width="1" height="18.1" fill="#f23645"/>
<rect x="500.61" y="174.3" width="4.8" height="9.7" fill="#f23645"/>
<rect x="509.39" y="179.2" width="1" height="38.9" fill="#f23645"/>
<rect x="507.49" y="183.9" width="4.8" height="34.1" fill="#f23645"/>
<rect x="516.28" y="213.7" width="1" height="20.1" fill="#f23645"/>
<rect x="514.38" y="217.5" width="4.8" height="14.4" fill="#f23645"/>
<rect x="523.16" y="216.7" width="1" height="11.6" fill="#089981"/>
<rect x="521.26" y="217.7" width="4.8" height="3.0" fill="#089981"/>
<rect x="530.05" y="216.7" width="1" height="21.7" fill="#f23645"/>
<rect x="528.15" y="217.7" width="4.8" height="12.2" fill="#f23645"/>
<rect x="536.93" y="220.4" width="1" height="24.3" fill="#f23645"/>
<rect x="535.03" y="229.5" width="4.8" height="15.2" fill="#f23645"/>
<rect x="543.82" y="239.7" width="1" height="18.7" fill="#f23645"/>
<rect x="541.92" y="244.7" width="4.8" height="2.0" fill="#f23645"/>
<rect x="550.70" y="244.3" width="1" height="13.2" fill="#f23645"/>
<rect x="548.80" y="246.1" width="4.8" height="7.9" fill="#f23645"/>
<rect x="557.59" y="242.1" width="1" height="19.3" fill="#089981"/>
<rect x="555.69" y="248.0" width="4.8" height="7.9" fill="#089981"/>
<rect x="564.47" y="236.8" width="1" height="17.2" fill="#f23645"/>
<rect x="562.57" y="247.3" width="4.8" height="1.7" fill="#f23645"/>
<rect x="571.35" y="238.2" width="1" height="25.8" fill="#f23645"/>
<rect x="569.45" y="248.0" width="4.8" height="16.0" fill="#f23645"/>
<rect x="578.24" y="252.6" width="1" height="22.1" fill="#089981"/>
<rect x="576.34" y="256.1" width="4.8" height="7.9" fill="#089981"/>
<rect x="585.12" y="248.0" width="1" height="14.4" fill="#f23645"/>
<rect x="583.22" y="256.1" width="4.8" height="5.3" fill="#f23645"/>
<rect x="592.01" y="247.0" width="1" height="15.4" fill="#089981"/>
<rect x="590.11" y="249.2" width="4.8" height="11.6" fill="#089981"/>
<rect x="598.89" y="243.3" width="1" height="19.1" fill="#f23645"/>
<rect x="596.99" y="249.2" width="4.8" height="6.7" fill="#f23645"/>
<rect x="605.78" y="242.1" width="1" height="25.6" fill="#089981"/>
<rect x="603.88" y="248.0" width="4.8" height="7.9" fill="#089981"/>
<rect x="612.66" y="221.4" width="1" height="29.2" fill="#089981"/>
<rect x="610.76" y="227.9" width="4.8" height="20.7" fill="#089981"/>
<rect x="619.55" y="189.1" width="1" height="43.8" fill="#089981"/>
<rect x="617.65" y="190.8" width="4.8" height="37.7" fill="#089981"/>
<rect x="626.43" y="190.4" width="1" height="15.2" fill="#f23645"/>
<rect x="624.53" y="193.8" width="4.8" height="11.8" fill="#f23645"/>
<rect x="633.32" y="200.3" width="1" height="23.7" fill="#f23645"/>
<rect x="631.42" y="205.2" width="4.8" height="10.5" fill="#f23645"/>
<rect x="640.20" y="212.1" width="1" height="13.4" fill="#f23645"/>
<rect x="638.30" y="214.7" width="4.8" height="10.3" fill="#f23645"/>
<rect x="647.08" y="207.2" width="1" height="22.3" fill="#f23645"/>
<rect x="645.18" y="224.0" width="4.8" height="4.5" fill="#f23645"/>
<rect x="653.97" y="213.7" width="1" height="22.5" fill="#f23645"/>
<rect x="652.07" y="227.9" width="4.8" height="3.9" fill="#f23645"/>
<rect x="660.85" y="227.9" width="1" height="10.5" fill="#f23645"/>
<rect x="658.95" y="229.5" width="4.8" height="5.3" fill="#f23645"/>
<rect x="667.74" y="186.1" width="1" height="55.2" fill="#089981"/>
<rect x="665.84" y="187.5" width="4.8" height="47.3" fill="#089981"/>
<rect x="674.62" y="170.7" width="1" height="22.1" fill="#089981"/>
<rect x="672.72" y="183.1" width="4.8" height="4.7" fill="#089981"/>
<rect x="681.51" y="177.2" width="1" height="27.4" fill="#f23645"/>
<rect x="679.61" y="183.1" width="4.8" height="21.5" fill="#f23645"/>
<rect x="688.39" y="191.8" width="1" height="21.3" fill="#089981"/>
<rect x="686.49" y="195.8" width="4.8" height="9.1" fill="#089981"/>
<rect x="695.28" y="175.2" width="1" height="23.7" fill="#089981"/>
<rect x="693.38" y="176.2" width="4.8" height="19.1" fill="#089981"/>
<rect x="702.16" y="159.9" width="1" height="20.7" fill="#089981"/>
<rect x="700.26" y="173.1" width="4.8" height="3.6" fill="#089981"/>
<rect x="709.04" y="167.4" width="1" height="25.0" fill="#f23645"/>
<rect x="707.14" y="173.1" width="4.8" height="11.0" fill="#f23645"/>
<rect x="715.93" y="166.2" width="1" height="18.3" fill="#089981"/>
<rect x="714.03" y="174.7" width="4.8" height="9.5" fill="#089981"/>
<rect x="722.81" y="158.3" width="1" height="16.8" fill="#089981"/>
<rect x="720.91" y="159.9" width="4.8" height="14.8" fill="#089981"/>
<rect x="729.70" y="151.4" width="1" height="17.4" fill="#089981"/>
<rect x="727.80" y="155.0" width="4.8" height="9.9" fill="#089981"/>
<rect x="736.58" y="137.1" width="1" height="20.1" fill="#089981"/>
<rect x="734.68" y="143.0" width="4.8" height="13.2" fill="#089981"/>
<rect x="743.47" y="114.8" width="1" height="29.6" fill="#089981"/>
<rect x="741.57" y="135.9" width="4.8" height="7.9" fill="#089981"/>
<rect x="750.35" y="125.1" width="1" height="21.7" fill="#089981"/>
<rect x="748.45" y="133.9" width="4.8" height="3.0" fill="#089981"/>
<rect x="757.24" y="115.4" width="1" height="23.1" fill="#089981"/>
<rect x="755.34" y="116.8" width="4.8" height="17.2" fill="#089981"/>
<rect x="764.12" y="110.3" width="1" height="26.2" fill="#f23645"/>
<rect x="762.22" y="119.2" width="4.8" height="12.0" fill="#f23645"/>
<rect x="771.00" y="128.0" width="1" height="17.8" fill="#f23645"/>
<rect x="769.11" y="130.2" width="4.8" height="15.6" fill="#f23645"/>
<rect x="777.89" y="126.6" width="1" height="18.3" fill="#089981"/>
<rect x="775.99" y="140.8" width="4.8" height="3.9" fill="#089981"/>
<rect x="784.77" y="120.3" width="1" height="30.0" fill="#089981"/>
<rect x="782.87" y="128.6" width="4.8" height="12.2" fill="#089981"/>
<rect x="791.66" y="122.1" width="1" height="30.6" fill="#f23645"/>
<rect x="789.76" y="128.6" width="4.8" height="19.3" fill="#f23645"/>
<rect x="798.54" y="141.4" width="1" height="11.2" fill="#089981"/>
<rect x="796.64" y="146.4" width="4.8" height="3.4" fill="#089981"/>
<rect x="805.43" y="129.6" width="1" height="23.1" fill="#089981"/>
<rect x="803.53" y="143.0" width="4.8" height="2.8" fill="#089981"/>
<rect x="812.31" y="114.2" width="1" height="45.8" fill="#089981"/>
<rect x="810.41" y="116.8" width="4.8" height="27.2" fill="#089981"/>
<rect x="819.20" y="86.2" width="1" height="43.0" fill="#089981"/>
<rect x="817.30" y="114.2" width="4.8" height="3.0" fill="#089981"/>
<rect x="826.08" y="106.5" width="1" height="20.1" fill="#089981"/>
<rect x="824.18" y="113.5" width="4.8" height="1.7" fill="#089981"/>
<rect x="832.97" y="99.0" width="1" height="23.7" fill="#089981"/>
<rect x="831.07" y="115.8" width="4.8" height="6.9" fill="#089981"/>
<rect x="839.85" y="91.1" width="1" height="25.2" fill="#089981"/>
<rect x="837.95" y="93.7" width="4.8" height="22.1" fill="#089981"/>
<rect x="846.73" y="81.9" width="1" height="20.7" fill="#f23645"/>
<rect x="844.83" y="93.7" width="4.8" height="6.3" fill="#f23645"/>
<rect x="853.62" y="83.3" width="1" height="21.3" fill="#089981"/>
<rect x="851.72" y="84.6" width="4.8" height="15.0" fill="#089981"/>
<rect x="860.50" y="71.4" width="1" height="19.3" fill="#089981"/>
<rect x="858.60" y="82.9" width="4.8" height="1.7" fill="#089981"/>
<rect x="867.39" y="43.8" width="1" height="50.7" fill="#089981"/>
<rect x="865.49" y="81.9" width="4.8" height="1.7" fill="#089981"/>
<rect x="874.27" y="42.2" width="1" height="43.6" fill="#089981"/>
<rect x="872.37" y="71.0" width="4.8" height="12.8" fill="#089981"/>
<rect x="881.16" y="63.5" width="1" height="16.2" fill="#089981"/>
<rect x="879.26" y="67.1" width="4.8" height="3.9" fill="#089981"/>
<rect x="888.04" y="56.0" width="1" height="17.0" fill="#f23645"/>
<rect x="886.14" y="66.9" width="4.8" height="4.5" fill="#f23645"/>
<rect x="894.93" y="60.0" width="1" height="19.7" fill="#f23645"/>
<rect x="893.03" y="71.0" width="4.8" height="2.8" fill="#f23645"/>
<rect x="901.81" y="67.9" width="1" height="19.9" fill="#089981"/>
<rect x="899.91" y="73.8" width="4.8" height="2.0" fill="#089981"/>
<rect x="908.69" y="68.1" width="1" height="32.5" fill="#f23645"/>
<rect x="906.79" y="74.8" width="4.8" height="25.8" fill="#f23645"/>
<rect x="915.58" y="90.2" width="1" height="20.7" fill="#f23645"/>
<rect x="913.68" y="100.0" width="4.8" height="2.4" fill="#f23645"/>
<rect x="922.46" y="87.2" width="1" height="23.7" fill="#f23645"/>
<rect x="920.56" y="102.4" width="4.8" height="4.5" fill="#f23645"/>
<rect x="929.35" y="88.8" width="1" height="35.9" fill="#089981"/>
<rect x="927.45" y="102.4" width="4.8" height="4.5" fill="#089981"/>
<rect x="936.23" y="95.7" width="1" height="18.1" fill="#089981"/>
<rect x="934.33" y="100.9" width="4.8" height="1.7" fill="#089981"/>
<rect x="943.12" y="93.7" width="1" height="16.2" fill="#f23645"/>
<rect x="941.22" y="101.0" width="4.8" height="4.3" fill="#f23645"/>
<rect x="950.00" y="98.0" width="1" height="14.8" fill="#f23645"/>
<rect x="948.10" y="104.0" width="4.8" height="6.5" fill="#f23645"/>
<rect x="956.89" y="96.7" width="1" height="23.5" fill="#089981"/>
<rect x="954.99" y="106.9" width="4.8" height="3.9" fill="#089981"/>
<rect x="963.77" y="88.8" width="1" height="19.5" fill="#089981"/>
<rect x="961.87" y="103.0" width="4.8" height="4.3" fill="#089981"/>
<rect x="970.66" y="100.0" width="1" height="24.7" fill="#f23645"/>
<rect x="968.76" y="102.0" width="4.8" height="18.7" fill="#f23645"/>
<rect x="977.54" y="115.8" width="1" height="29.0" fill="#f23645"/>
<rect x="975.64" y="120.3" width="4.8" height="21.5" fill="#f23645"/>
<rect x="984.42" y="135.2" width="1" height="23.1" fill="#f23645"/>
<rect x="982.52" y="141.5" width="4.8" height="9.1" fill="#f23645"/>
<rect x="991.31" y="141.5" width="1" height="15.4" fill="#f23645"/>
<rect x="989.41" y="149.7" width="4.8" height="1.7" fill="#f23645"/>
<rect x="998.19" y="145.1" width="1" height="13.4" fill="#089981"/>
<rect x="996.29" y="149.3" width="4.8" height="1.7" fill="#089981"/>
<rect x="1005.08" y="140.7" width="1" height="23.1" fill="#f23645"/>
<rect x="1003.18" y="149.0" width="4.8" height="14.8" fill="#f23645"/>
<rect x="1011.96" y="148.0" width="1" height="20.7" fill="#089981"/>
<rect x="1010.06" y="158.9" width="4.8" height="4.9" fill="#089981"/>
<rect x="1018.85" y="137.2" width="1" height="24.1" fill="#089981"/>
<rect x="1016.95" y="149.0" width="4.8" height="10.5" fill="#089981"/>
<rect x="1025.73" y="142.1" width="1" height="26.6" fill="#f23645"/>
<rect x="1023.83" y="149.5" width="4.8" height="1.7" fill="#f23645"/>
<rect x="1032.62" y="147.1" width="1" height="11.4" fill="#f23645"/>
<rect x="1030.72" y="151.0" width="4.8" height="7.5" fill="#f23645"/>
<rect x="1039.50" y="138.8" width="1" height="20.7" fill="#089981"/>
<rect x="1037.60" y="142.1" width="4.8" height="12.4" fill="#089981"/>
<rect x="1046.38" y="137.2" width="1" height="15.8" fill="#089981"/>
<rect x="1044.48" y="141.8" width="4.8" height="1.7" fill="#089981"/>
<rect x="1053.27" y="127.7" width="1" height="26.2" fill="#f23645"/>
<rect x="1051.37" y="142.5" width="4.8" height="7.5" fill="#f23645"/>
<rect x="1060.15" y="138.6" width="1" height="22.7" fill="#089981"/>
<rect x="1058.25" y="140.2" width="4.8" height="9.9" fill="#089981"/>
<rect x="1067.04" y="132.3" width="1" height="37.5" fill="#f23645"/>
<rect x="1065.14" y="140.6" width="4.8" height="24.3" fill="#f23645"/>
<rect x="1073.92" y="161.9" width="1" height="16.2" fill="#f23645"/>
<rect x="1072.02" y="165.2" width="4.8" height="7.1" fill="#f23645"/>
<rect x="1080.81" y="160.5" width="1" height="13.8" fill="#089981"/>
<rect x="1078.91" y="162.2" width="4.8" height="10.1" fill="#089981"/>
<rect x="1087.69" y="146.7" width="1" height="17.6" fill="#089981"/>
<rect x="1085.79" y="151.6" width="4.8" height="10.3" fill="#089981"/>
<rect x="1094.58" y="146.1" width="1" height="15.8" fill="#f23645"/>
<rect x="1092.68" y="151.6" width="4.8" height="5.9" fill="#f23645"/>
<rect x="1101.46" y="133.3" width="1" height="24.3" fill="#089981"/>
<rect x="1099.56" y="136.2" width="4.8" height="21.3" fill="#089981"/>
<rect x="1108.35" y="135.2" width="1" height="12.4" fill="#f23645"/>
<rect x="1106.45" y="140.7" width="4.8" height="3.4" fill="#f23645"/>
<rect x="1115.23" y="140.7" width="1" height="32.3" fill="#f23645"/>
<rect x="1113.33" y="143.1" width="4.8" height="27.2" fill="#f23645"/>
<rect x="1122.11" y="157.3" width="1" height="15.0" fill="#089981"/>
<rect x="1120.21" y="161.5" width="4.8" height="8.9" fill="#089981"/>
<rect x="1129.00" y="144.1" width="1" height="19.1" fill="#089981"/>
<rect x="1127.10" y="152.6" width="4.8" height="9.3" fill="#089981"/>
<rect x="1135.88" y="141.5" width="1" height="21.3" fill="#089981"/>
<rect x="1133.98" y="146.1" width="4.8" height="6.9" fill="#089981"/>
<rect x="1142.77" y="135.2" width="1" height="11.2" fill="#089981"/>
<rect x="1140.87" y="136.8" width="4.8" height="8.9" fill="#089981"/>
<rect x="1149.65" y="121.0" width="1" height="22.7" fill="#089981"/>
<rect x="1147.75" y="129.7" width="4.8" height="7.5" fill="#089981"/>
<rect x="1156.54" y="118.5" width="1" height="20.7" fill="#089981"/>
<rect x="1154.64" y="126.0" width="4.8" height="3.9" fill="#089981"/>
<rect x="1163.42" y="111.0" width="1" height="17.4" fill="#089981"/>
<rect x="1161.52" y="118.9" width="4.8" height="7.5" fill="#089981"/>
<rect x="1170.31" y="113.9" width="1" height="11.8" fill="#f23645"/>
<rect x="1168.41" y="118.3" width="4.8" height="1.7" fill="#f23645"/>
<rect x="1177.19" y="117.5" width="1" height="14.4" fill="#f23645"/>
<rect x="1175.29" y="122.0" width="4.8" height="6.9" fill="#f23645"/>
<rect x="1184.08" y="125.8" width="1" height="9.9" fill="#f23645"/>
<rect x="1182.17" y="128.3" width="4.8" height="2.0" fill="#f23645"/>
<rect x="1190.96" y="126.0" width="1" height="35.3" fill="#f23645"/>
<rect x="1189.06" y="130.7" width="4.8" height="24.9" fill="#f23645"/>
<rect x="1197.84" y="149.6" width="1" height="13.6" fill="#f23645"/>
<rect x="1195.94" y="155.3" width="4.8" height="4.1" fill="#f23645"/>
<rect x="1204.73" y="150.0" width="1" height="12.4" fill="#089981"/>
<rect x="1202.83" y="151.6" width="4.8" height="7.9" fill="#089981"/>
<rect x="1211.61" y="149.6" width="1" height="9.9" fill="#f23645"/>
<rect x="1209.71" y="153.6" width="4.8" height="2.8" fill="#f23645"/>
<rect x="1218.50" y="150.6" width="1" height="14.2" fill="#f23645"/>
<rect x="1216.60" y="155.9" width="4.8" height="4.9" fill="#f23645"/>
<rect x="1225.38" y="138.8" width="1" height="27.0" fill="#089981"/>
<rect x="1223.48" y="143.7" width="4.8" height="16.6" fill="#089981"/>
<rect x="1232.27" y="126.4" width="1" height="19.3" fill="#089981"/>
<rect x="1230.37" y="127.3" width="4.8" height="17.2" fill="#089981"/>
<rect x="1239.15" y="112.2" width="1" height="19.7" fill="#089981"/>
<rect x="1237.25" y="127.5" width="4.8" height="1.7" fill="#089981"/>
<rect x="1246.04" y="123.3" width="1" height="9.7" fill="#f23645"/>
<rect x="1244.14" y="128.2" width="4.8" height="2.0" fill="#f23645"/>
<rect x="1252.92" y="121.1" width="1" height="20.9" fill="#f23645"/>
<rect x="1251.02" y="129.6" width="4.8" height="7.3" fill="#f23645"/>
<rect x="1259.80" y="128.6" width="1" height="10.8" fill="#089981"/>
<rect x="1257.90" y="134.1" width="4.8" height="2.8" fill="#089981"/>
<rect x="1266.69" y="126.6" width="1" height="20.1" fill="#f23645"/>
<rect x="1264.79" y="134.1" width="4.8" height="9.9" fill="#f23645"/>
<rect x="1273.57" y="142.4" width="1" height="19.1" fill="#f23645"/>
<rect x="1271.67" y="143.4" width="4.8" height="18.1" fill="#f23645"/>
<rect x="1280.46" y="154.2" width="1" height="9.3" fill="#f23645"/>
<rect x="1278.56" y="158.4" width="4.8" height="1.7" fill="#f23645"/>
<rect x="1287.34" y="157.8" width="1" height="21.1" fill="#f23645"/>
<rect x="1285.44" y="159.8" width="4.8" height="12.8" fill="#f23645"/>
<rect x="1294.23" y="159.8" width="1" height="22.7" fill="#089981"/>
<rect x="1292.33" y="161.1" width="4.8" height="11.4" fill="#089981"/>
<rect x="1301.11" y="152.3" width="1" height="25.6" fill="#f23645"/>
<rect x="1299.21" y="161.7" width="4.8" height="14.2" fill="#f23645"/>
<rect x="1308.00" y="172.6" width="1" height="22.1" fill="#f23645"/>
<rect x="1306.10" y="175.3" width="4.8" height="19.3" fill="#f23645"/>
<rect x="1314.88" y="186.2" width="1" height="10.1" fill="#f23645"/>
<rect x="1312.98" y="188.0" width="4.8" height="2.6" fill="#f23645"/>
<rect x="1321.77" y="179.9" width="1" height="12.8" fill="#089981"/>
<rect x="1319.87" y="189.4" width="4.8" height="1.7" fill="#089981"/>
<rect x="1328.65" y="186.8" width="1" height="8.9" fill="#089981"/>
<rect x="1326.75" y="188.7" width="4.8" height="1.7" fill="#089981"/>
<rect x="1335.53" y="188.2" width="1" height="19.3" fill="#f23645"/>
<rect x="1333.63" y="189.2" width="4.8" height="12.4" fill="#f23645"/>
<rect x="1342.42" y="194.7" width="1" height="11.8" fill="#f23645"/>
<rect x="1340.52" y="201.6" width="4.8" height="3.9" fill="#f23645"/>
<rect x="1349.30" y="193.7" width="1" height="19.1" fill="#f23645"/>
<rect x="1347.40" y="198.6" width="4.8" height="9.9" fill="#f23645"/>
<rect x="1356.19" y="200.8" width="1" height="11.0" fill="#089981"/>
<rect x="1354.29" y="201.2" width="4.8" height="7.6" fill="#089981"/>
<rect x="1363.07" y="186.8" width="1" height="21.3" fill="#089981"/>
<rect x="1361.17" y="188.2" width="4.8" height="13.4" fill="#089981"/>
<rect x="1369.96" y="174.6" width="1" height="19.1" fill="#089981"/>
<rect x="1368.06" y="182.1" width="4.8" height="6.6" fill="#089981"/>
<rect x="1376.84" y="179.9" width="1" height="16.4" fill="#f23645"/>
<rect x="1374.94" y="182.2" width="4.8" height="4.5" fill="#f23645"/>
<line x1="12" y1="186.8" x2="1449" y2="186.8" stroke="#f23645" stroke-width="1" stroke-dasharray="1 2"/>
</g>
<g clip-path="url(#cr)">
<rect x="12" y="326.5" width="1437" height="99.0" fill="#7e57c2" fill-opacity="0.1"/>
<line x1="13" y1="326.5" x2="1449" y2="326.5" stroke="#787b86" stroke-width="1.1" stroke-dasharray="5.3 4.78"/>
<line x1="13" y1="375.5" x2="1449" y2="375.5" stroke="#787b86" stroke-width="1.1" stroke-dasharray="5.3 4.78"/>
<line x1="13" y1="425.5" x2="1449" y2="425.5" stroke="#787b86" stroke-width="1.1" stroke-dasharray="5.3 4.78"/>
<path d="M12.0,366.8 L14.2,363.6 L21.1,367.3 L28.0,373.3 L34.9,362.9 L41.7,359.7 L48.6,363.4 L55.5,342.3 L62.4,326.0 L69.3,333.6 L76.2,346.6 L83.1,360.8 L89.9,363.4 L96.8,370.5 L103.7,386.4 L110.6,377.7 L117.5,373.1 L124.4,376.4 L131.2,383.1 L138.1,390.7 L145.0,374.9 L151.9,389.0 L158.8,402.2 L165.7,402.4 L172.6,400.5 L179.4,393.5 L186.3,402.0 L193.2,405.7 L200.1,411.7 L207.0,418.2 L213.9,420.0 L220.7,424.3 L227.6,427.1 L234.5,428.9 L241.4,430.0 L248.3,425.8 L255.2,417.6 L262.1,401.8 L268.9,416.1 L275.8,420.4 L282.7,417.2 L289.6,391.3 L296.5,395.5 L303.4,391.3 L310.2,397.6 L317.1,399.8 L324.0,414.3 L330.9,416.9 L337.8,416.1 L344.7,412.0 L351.6,394.4 L358.4,399.2 L365.3,392.4 L372.2,394.8 L379.1,399.6 L386.0,389.6 L392.9,380.7 L399.7,383.7 L406.6,382.7 L413.5,368.8 L420.4,365.7 L427.3,376.4 L434.2,386.8 L441.0,369.0 L447.9,356.0 L454.8,376.4 L461.7,390.5 L468.6,388.1 L475.5,367.7 L482.4,361.0 L489.2,349.3 L496.1,342.7 L503.0,354.2 L509.9,386.4 L516.8,396.1 L523.7,383.7 L530.5,392.2 L537.4,401.5 L544.3,403.3 L551.2,407.6 L558.1,401.5 L565.0,402.0 L571.9,412.4 L578.7,404.6 L585.6,407.2 L592.5,393.3 L599.4,398.5 L606.3,390.5 L613.2,369.9 L620.0,344.3 L626.9,356.0 L633.8,364.9 L640.7,372.2 L647.6,375.9 L654.5,378.8 L661.4,381.4 L668.2,346.9 L675.1,344.5 L682.0,362.3 L688.9,357.5 L695.8,346.0 L702.7,343.8 L709.5,353.4 L716.4,347.3 L723.3,339.7 L730.2,337.1 L737.1,331.0 L744.0,327.1 L750.9,326.0 L757.7,317.8 L764.6,332.5 L771.5,348.2 L778.4,345.6 L785.3,338.4 L792.2,356.4 L799.0,355.3 L805.9,353.8 L812.8,336.5 L819.7,335.1 L826.6,334.9 L833.5,336.9 L840.4,324.3 L847.2,331.2 L854.1,322.8 L861.0,322.6 L867.9,321.7 L874.8,315.6 L881.7,313.5 L888.5,318.4 L895.4,323.2 L902.3,323.6 L909.2,361.0 L916.1,363.6 L923.0,369.2 L929.8,364.0 L936.7,362.9 L943.6,367.5 L950.5,375.5 L957.4,370.5 L964.3,365.5 L971.2,387.9 L978.0,408.5 L984.9,415.4 L991.8,415.6 L998.7,413.9 L1005.6,425.2 L1012.5,417.2 L1019.3,402.0 L1026.2,403.7 L1033.1,410.0 L1040.0,387.9 L1046.9,387.9 L1053.8,395.7 L1060.7,383.1 L1067.5,405.7 L1074.4,411.3 L1081.3,398.1 L1088.2,386.1 L1095.1,391.3 L1102.0,369.4 L1108.8,375.9 L1115.7,398.1 L1122.6,388.5 L1129.5,381.4 L1136.4,374.9 L1143.3,367.3 L1150.2,361.2 L1157.0,357.5 L1163.9,351.6 L1170.8,353.4 L1177.7,363.6 L1184.6,365.7 L1191.5,391.6 L1198.3,394.8 L1205.2,386.4 L1212.1,390.3 L1219.0,393.9 L1225.9,375.9 L1232.8,359.7 L1239.7,359.4 L1246.5,361.4 L1253.4,369.9 L1260.3,367.7 L1267.2,379.6 L1274.1,395.9 L1281.0,395.7 L1287.8,406.7 L1294.7,393.3 L1301.6,403.7 L1308.5,417.8 L1315.4,413.3 L1322.3,412.4 L1329.1,412.4 L1336.0,421.1 L1342.9,424.1 L1349.8,426.3 L1356.7,415.0 L1363.6,395.0 L1370.5,386.8 L1377.3,392.2" fill="none" stroke="#7e57c2" stroke-width="1.3" stroke-linejoin="round"/>
</g>
<g clip-path="url(#cd)">
<rect x="10.51" y="516.05" width="5.8" height="1.25" fill="#26a69a"/>
<rect x="17.39" y="514.20" width="5.8" height="3.10" fill="#26a69a"/>
<rect x="24.28" y="514.20" width="5.8" height="3.10" fill="#b2dfdb"/>
<rect x="31.16" y="512.30" width="5.8" height="5.00" fill="#26a69a"/>
<rect x="38.05" y="510.30" width="5.8" height="7.00" fill="#26a69a"/>
<rect x="44.93" y="510.20" width="5.8" height="7.10" fill="#26a69a"/>
<rect x="51.82" y="506.05" width="5.8" height="11.25" fill="#26a69a"/>
<rect x="58.70" y="498.30" width="5.8" height="19.00" fill="#26a69a"/>
<rect x="65.59" y="496.50" width="5.8" height="20.80" fill="#26a69a"/>
<rect x="72.47" y="498.55" width="5.8" height="18.75" fill="#b2dfdb"/>
<rect x="79.36" y="502.90" width="5.8" height="14.40" fill="#b2dfdb"/>
<rect x="86.24" y="507.60" width="5.8" height="9.70" fill="#b2dfdb"/>
<rect x="93.12" y="513.10" width="5.8" height="4.20" fill="#b2dfdb"/>
<rect x="100.01" y="517.30" width="5.8" height="3.60" fill="#ff5252"/>
<rect x="106.89" y="517.30" width="5.8" height="5.50" fill="#ff5252"/>
<rect x="113.78" y="517.30" width="5.8" height="6.60" fill="#ff5252"/>
<rect x="120.66" y="517.30" width="5.8" height="7.30" fill="#ff5252"/>
<rect x="127.55" y="517.30" width="5.8" height="9.40" fill="#ff5252"/>
<rect x="134.43" y="517.30" width="5.8" height="12.00" fill="#ff5252"/>
<rect x="141.32" y="517.30" width="5.8" height="10.50" fill="#ffcdd2"/>
<rect x="148.20" y="517.30" width="5.8" height="10.90" fill="#ff5252"/>
<rect x="155.08" y="517.30" width="5.8" height="14.50" fill="#ff5252"/>
<rect x="161.97" y="517.30" width="5.8" height="16.40" fill="#ff5252"/>
<rect x="168.85" y="517.30" width="5.8" height="16.20" fill="#ffcdd2"/>
<rect x="175.74" y="517.30" width="5.8" height="14.50" fill="#ffcdd2"/>
<rect x="182.62" y="517.30" width="5.8" height="14.40" fill="#ffcdd2"/>
<rect x="189.51" y="517.30" width="5.8" height="14.40" fill="#ffcdd2"/>
<rect x="196.39" y="517.30" width="5.8" height="15.60" fill="#ff5252"/>
<rect x="203.28" y="517.30" width="5.8" height="16.10" fill="#ff5252"/>
<rect x="210.16" y="517.30" width="5.8" height="16.40" fill="#ff5252"/>
<rect x="217.05" y="517.30" width="5.8" height="17.50" fill="#ff5252"/>
<rect x="223.93" y="517.30" width="5.8" height="16.40" fill="#ffcdd2"/>
<rect x="230.81" y="517.30" width="5.8" height="15.30" fill="#ffcdd2"/>
<rect x="237.70" y="517.30" width="5.8" height="14.50" fill="#ffcdd2"/>
<rect x="244.58" y="517.30" width="5.8" height="11.70" fill="#ffcdd2"/>
<rect x="251.47" y="517.30" width="5.8" height="9.40" fill="#ffcdd2"/>
<rect x="258.35" y="517.30" width="5.8" height="3.40" fill="#ffcdd2"/>
<rect x="265.24" y="517.30" width="5.8" height="3.40" fill="#ffcdd2"/>
<rect x="272.12" y="517.30" width="5.8" height="3.40" fill="#ffcdd2"/>
<rect x="279.01" y="517.30" width="5.8" height="1.90" fill="#ffcdd2"/>
<rect x="285.89" y="515.00" width="5.8" height="2.30" fill="#26a69a"/>
<rect x="292.77" y="512.10" width="5.8" height="5.20" fill="#26a69a"/>
<rect x="299.66" y="510.30" width="5.8" height="7.00" fill="#26a69a"/>
<rect x="306.54" y="509.20" width="5.8" height="8.10" fill="#26a69a"/>
<rect x="313.43" y="510.30" width="5.8" height="7.00" fill="#b2dfdb"/>
<rect x="320.31" y="513.10" width="5.8" height="4.20" fill="#b2dfdb"/>
<rect x="327.20" y="515.00" width="5.8" height="2.30" fill="#b2dfdb"/>
<rect x="334.08" y="516.05" width="5.8" height="1.25" fill="#b2dfdb"/>
<rect x="340.97" y="515.90" width="5.8" height="1.40" fill="#26a69a"/>
<rect x="347.85" y="513.90" width="5.8" height="3.40" fill="#26a69a"/>
<rect x="354.74" y="513.10" width="5.8" height="4.20" fill="#26a69a"/>
<rect x="361.62" y="511.40" width="5.8" height="5.90" fill="#26a69a"/>
<rect x="368.50" y="510.30" width="5.8" height="7.00" fill="#26a69a"/>
<rect x="375.39" y="511.05" width="5.8" height="6.25" fill="#b2dfdb"/>
<rect x="382.27" y="510.30" width="5.8" height="7.00" fill="#26a69a"/>
<rect x="389.16" y="508.40" width="5.8" height="8.90" fill="#26a69a"/>
<rect x="396.04" y="508.30" width="5.8" height="9.00" fill="#26a69a"/>
<rect x="402.93" y="508.20" width="5.8" height="9.10" fill="#26a69a"/>
<rect x="409.81" y="506.70" width="5.8" height="10.60" fill="#26a69a"/>
<rect x="416.70" y="505.60" width="5.8" height="11.70" fill="#26a69a"/>
<rect x="423.58" y="506.70" width="5.8" height="10.60" fill="#b2dfdb"/>
<rect x="430.46" y="508.40" width="5.8" height="8.90" fill="#b2dfdb"/>
<rect x="437.35" y="508.30" width="5.8" height="9.00" fill="#26a69a"/>
<rect x="444.23" y="506.70" width="5.8" height="10.60" fill="#26a69a"/>
<rect x="451.12" y="508.40" width="5.8" height="8.90" fill="#b2dfdb"/>
<rect x="458.00" y="512.10" width="5.8" height="5.20" fill="#b2dfdb"/>
<rect x="464.89" y="514.20" width="5.8" height="3.10" fill="#b2dfdb"/>
<rect x="471.77" y="513.10" width="5.8" height="4.20" fill="#26a69a"/>
<rect x="478.66" y="511.05" width="5.8" height="6.25" fill="#26a69a"/>
<rect x="485.54" y="508.40" width="5.8" height="8.90" fill="#26a69a"/>
<rect x="492.43" y="505.60" width="5.8" height="11.70" fill="#26a69a"/>
<rect x="499.31" y="506.70" width="5.8" height="10.60" fill="#b2dfdb"/>
<rect x="506.19" y="512.30" width="5.8" height="5.00" fill="#b2dfdb"/>
<rect x="513.08" y="517.30" width="5.8" height="1.20" fill="#ff5252"/>
<rect x="519.96" y="517.30" width="5.8" height="2.30" fill="#ff5252"/>
<rect x="526.85" y="517.30" width="5.8" height="4.40" fill="#ff5252"/>
<rect x="533.73" y="517.30" width="5.8" height="8.60" fill="#ff5252"/>
<rect x="540.62" y="517.30" width="5.8" height="10.20" fill="#ff5252"/>
<rect x="547.50" y="517.30" width="5.8" height="12.00" fill="#ff5252"/>
<rect x="554.39" y="517.30" width="5.8" height="11.70" fill="#ffcdd2"/>
<rect x="561.27" y="517.30" width="5.8" height="10.90" fill="#ffcdd2"/>
<rect x="568.15" y="517.30" width="5.8" height="11.70" fill="#ff5252"/>
<rect x="575.04" y="517.30" width="5.8" height="10.90" fill="#ffcdd2"/>
<rect x="581.92" y="517.30" width="5.8" height="10.20" fill="#ffcdd2"/>
<rect x="588.81" y="517.30" width="5.8" height="6.25" fill="#ffcdd2"/>
<rect x="595.69" y="517.30" width="5.8" height="5.20" fill="#ffcdd2"/>
<rect x="602.58" y="517.30" width="5.8" height="2.30" fill="#ffcdd2"/>
<rect x="609.46" y="515.00" width="5.8" height="2.30" fill="#26a69a"/>
<rect x="616.35" y="506.70" width="5.8" height="10.60" fill="#26a69a"/>
<rect x="623.23" y="504.00" width="5.8" height="13.30" fill="#26a69a"/>
<rect x="630.12" y="504.20" width="5.8" height="13.10" fill="#b2dfdb"/>
<rect x="637.00" y="505.90" width="5.8" height="11.40" fill="#b2dfdb"/>
<rect x="643.88" y="508.40" width="5.8" height="8.90" fill="#b2dfdb"/>
<rect x="650.77" y="510.30" width="5.8" height="7.00" fill="#b2dfdb"/>
<rect x="657.65" y="512.10" width="5.8" height="5.20" fill="#b2dfdb"/>
<rect x="664.54" y="507.60" width="5.8" height="9.70" fill="#26a69a"/>
<rect x="671.42" y="504.00" width="5.8" height="13.30" fill="#26a69a"/>
<rect x="678.31" y="505.90" width="5.8" height="11.40" fill="#b2dfdb"/>
<rect x="685.19" y="506.00" width="5.8" height="11.30" fill="#b2dfdb"/>
<rect x="692.08" y="504.00" width="5.8" height="13.30" fill="#26a69a"/>
<rect x="698.96" y="503.20" width="5.8" height="14.10" fill="#26a69a"/>
<rect x="705.84" y="504.80" width="5.8" height="12.50" fill="#b2dfdb"/>
<rect x="712.73" y="505.90" width="5.8" height="11.40" fill="#b2dfdb"/>
<rect x="719.61" y="504.80" width="5.8" height="12.50" fill="#26a69a"/>
<rect x="726.50" y="504.00" width="5.8" height="13.30" fill="#26a69a"/>
<rect x="733.38" y="502.90" width="5.8" height="14.40" fill="#26a69a"/>
<rect x="740.27" y="502.10" width="5.8" height="15.20" fill="#26a69a"/>
<rect x="747.15" y="502.90" width="5.8" height="14.40" fill="#b2dfdb"/>
<rect x="754.04" y="500.90" width="5.8" height="16.40" fill="#26a69a"/>
<rect x="760.92" y="504.00" width="5.8" height="13.30" fill="#b2dfdb"/>
<rect x="767.80" y="508.40" width="5.8" height="8.90" fill="#b2dfdb"/>
<rect x="774.69" y="511.05" width="5.8" height="6.25" fill="#b2dfdb"/>
<rect x="781.57" y="512.10" width="5.8" height="5.20" fill="#b2dfdb"/>
<rect x="788.46" y="516.05" width="5.8" height="1.25" fill="#b2dfdb"/>
<rect x="795.34" y="517.30" width="5.8" height="1.90" fill="#ff5252"/>
<rect x="802.23" y="517.30" width="5.8" height="3.60" fill="#ff5252"/>
<rect x="809.11" y="517.30" width="5.8" height="1.20" fill="#ffcdd2"/>
<rect x="816.00" y="516.10" width="5.8" height="1.20" fill="#26a69a"/>
<rect x="822.88" y="515.90" width="5.8" height="1.40" fill="#26a69a"/>
<rect x="829.77" y="516.10" width="5.8" height="1.20" fill="#b2dfdb"/>
<rect x="836.65" y="513.90" width="5.8" height="3.40" fill="#26a69a"/>
<rect x="843.53" y="513.80" width="5.8" height="3.50" fill="#26a69a"/>
<rect x="850.42" y="512.10" width="5.8" height="5.20" fill="#26a69a"/>
<rect x="857.30" y="511.05" width="5.8" height="6.25" fill="#26a69a"/>
<rect x="864.19" y="512.10" width="5.8" height="5.20" fill="#b2dfdb"/>
<rect x="871.07" y="511.05" width="5.8" height="6.25" fill="#26a69a"/>
<rect x="877.96" y="511.00" width="5.8" height="6.30" fill="#26a69a"/>
<rect x="884.84" y="512.10" width="5.8" height="5.20" fill="#b2dfdb"/>
<rect x="891.73" y="513.90" width="5.8" height="3.40" fill="#b2dfdb"/>
<rect x="898.61" y="516.05" width="5.8" height="1.25" fill="#b2dfdb"/>
<rect x="905.49" y="517.30" width="5.8" height="4.40" fill="#ff5252"/>
<rect x="912.38" y="517.30" width="5.8" height="8.30" fill="#ff5252"/>
<rect x="919.26" y="517.30" width="5.8" height="11.70" fill="#ff5252"/>
<rect x="926.15" y="517.30" width="5.8" height="12.80" fill="#ff5252"/>
<rect x="933.03" y="517.30" width="5.8" height="12.90" fill="#ff5252"/>
<rect x="939.92" y="517.30" width="5.8" height="13.60" fill="#ff5252"/>
<rect x="946.80" y="517.30" width="5.8" height="14.50" fill="#ff5252"/>
<rect x="953.69" y="517.30" width="5.8" height="13.60" fill="#ffcdd2"/>
<rect x="960.57" y="517.30" width="5.8" height="12.50" fill="#ffcdd2"/>
<rect x="967.46" y="517.30" width="5.8" height="13.60" fill="#ff5252"/>
<rect x="974.34" y="517.30" width="5.8" height="17.50" fill="#ff5252"/>
<rect x="981.22" y="517.30" width="5.8" height="20.30" fill="#ff5252"/>
<rect x="988.11" y="517.30" width="5.8" height="21.40" fill="#ff5252"/>
<rect x="994.99" y="517.30" width="5.8" height="20.30" fill="#ffcdd2"/>
<rect x="1001.88" y="517.30" width="5.8" height="21.40" fill="#ff5252"/>
<rect x="1008.76" y="517.30" width="5.8" height="19.20" fill="#ffcdd2"/>
<rect x="1015.65" y="517.30" width="5.8" height="16.40" fill="#ffcdd2"/>
<rect x="1022.53" y="517.30" width="5.8" height="13.60" fill="#ffcdd2"/>
<rect x="1029.42" y="517.30" width="5.8" height="11.70" fill="#ffcdd2"/>
<rect x="1036.30" y="517.30" width="5.8" height="8.30" fill="#ffcdd2"/>
<rect x="1043.18" y="517.30" width="5.8" height="4.40" fill="#ffcdd2"/>
<rect x="1050.07" y="517.30" width="5.8" height="3.40" fill="#ffcdd2"/>
<rect x="1056.95" y="517.30" width="5.8" height="1.60" fill="#ffcdd2"/>
<rect x="1063.84" y="517.30" width="5.8" height="2.70" fill="#ff5252"/>
<rect x="1070.72" y="517.30" width="5.8" height="4.40" fill="#ff5252"/>
<rect x="1077.61" y="517.30" width="5.8" height="3.40" fill="#ffcdd2"/>
<rect x="1084.49" y="517.30" width="5.8" height="1.90" fill="#ffcdd2"/>
<rect x="1091.38" y="517.30" width="5.8" height="1.20" fill="#ffcdd2"/>
<rect x="1098.26" y="514.20" width="5.8" height="3.10" fill="#26a69a"/>
<rect x="1105.15" y="512.10" width="5.8" height="5.20" fill="#26a69a"/>
<rect x="1112.03" y="515.30" width="5.8" height="2.00" fill="#b2dfdb"/>
<rect x="1118.91" y="516.10" width="5.8" height="1.20" fill="#b2dfdb"/>
<rect x="1125.80" y="515.00" width="5.8" height="2.30" fill="#26a69a"/>
<rect x="1132.68" y="513.10" width="5.8" height="4.20" fill="#26a69a"/>
<rect x="1139.57" y="511.05" width="5.8" height="6.25" fill="#26a69a"/>
<rect x="1146.45" y="508.40" width="5.8" height="8.90" fill="#26a69a"/>
<rect x="1153.34" y="506.70" width="5.8" height="10.60" fill="#26a69a"/>
<rect x="1160.22" y="505.60" width="5.8" height="11.70" fill="#26a69a"/>
<rect x="1167.11" y="504.80" width="5.8" height="12.50" fill="#26a69a"/>
<rect x="1173.99" y="506.70" width="5.8" height="10.60" fill="#b2dfdb"/>
<rect x="1180.88" y="509.50" width="5.8" height="7.80" fill="#b2dfdb"/>
<rect x="1187.76" y="514.20" width="5.8" height="3.10" fill="#b2dfdb"/>
<rect x="1194.64" y="517.30" width="5.8" height="1.25" fill="#ff5252"/>
<rect x="1201.53" y="517.30" width="5.8" height="1.90" fill="#ff5252"/>
<rect x="1208.41" y="517.30" width="5.8" height="3.60" fill="#ff5252"/>
<rect x="1215.30" y="517.30" width="5.8" height="4.70" fill="#ff5252"/>
<rect x="1222.18" y="517.30" width="5.8" height="1.25" fill="#ffcdd2"/>
<rect x="1229.07" y="516.05" width="5.8" height="1.25" fill="#26a69a"/>
<rect x="1235.95" y="514.20" width="5.8" height="3.10" fill="#26a69a"/>
<rect x="1242.84" y="513.10" width="5.8" height="4.20" fill="#26a69a"/>
<rect x="1249.72" y="514.20" width="5.8" height="3.10" fill="#b2dfdb"/>
<rect x="1256.60" y="515.00" width="5.8" height="2.30" fill="#b2dfdb"/>
<rect x="1263.49" y="516.10" width="5.8" height="1.20" fill="#b2dfdb"/>
<rect x="1270.37" y="517.30" width="5.8" height="1.90" fill="#ff5252"/>
<rect x="1277.26" y="517.30" width="5.8" height="3.60" fill="#ff5252"/>
<rect x="1284.14" y="517.30" width="5.8" height="6.25" fill="#ff5252"/>
<rect x="1291.03" y="517.30" width="5.8" height="6.10" fill="#ffcdd2"/>
<rect x="1297.91" y="517.30" width="5.8" height="8.30" fill="#ff5252"/>
<rect x="1304.80" y="517.30" width="5.8" height="10.90" fill="#ff5252"/>
<rect x="1311.68" y="517.30" width="5.8" height="12.00" fill="#ff5252"/>
<rect x="1318.57" y="517.30" width="5.8" height="11.40" fill="#ffcdd2"/>
<rect x="1325.45" y="517.30" width="5.8" height="10.90" fill="#ffcdd2"/>
<rect x="1332.33" y="517.30" width="5.8" height="11.25" fill="#ff5252"/>
<rect x="1339.22" y="517.30" width="5.8" height="10.90" fill="#ffcdd2"/>
<rect x="1346.10" y="517.30" width="5.8" height="10.60" fill="#ffcdd2"/>
<rect x="1352.99" y="517.30" width="5.8" height="9.40" fill="#ffcdd2"/>
<rect x="1359.87" y="517.30" width="5.8" height="4.40" fill="#ffcdd2"/>
<rect x="1366.76" y="517.30" width="5.8" height="1.20" fill="#ffcdd2"/>
<rect x="1373.64" y="516.10" width="5.8" height="1.20" fill="#26a69a"/>
<path d="M12.4,520.9 L14.2,519.9 L21.1,517.7 L28.0,516.6 L34.9,514.0 L41.7,510.7 L48.6,509.4 L55.5,501.8 L62.4,489.5 L69.3,481.9 L76.2,479.3 L83.1,480.8 L89.9,483.6 L96.8,487.3 L103.7,495.3 L110.6,499.7 L117.5,502.3 L124.4,505.3 L131.2,509.0 L138.1,513.6 L145.0,514.4 L151.9,519.2 L158.8,527.0 L165.7,532.4 L172.6,536.6 L179.4,538.3 L186.3,541.6 L193.2,544.8 L200.1,548.7 L207.0,554.1 L213.9,558.5 L220.7,563.2 L227.6,567.2 L234.5,570.4 L241.4,573.0 L248.3,574.1 L255.2,572.6 L262.1,568.7 L268.9,569.1 L275.8,569.5 L282.7,569.1 L289.6,563.9 L296.5,560.4 L303.4,556.7 L310.2,554.1 L317.1,552.8 L324.0,554.9 L330.9,556.2 L337.8,557.1 L344.7,556.7 L351.6,553.7 L358.4,551.5 L365.3,548.4 L372.2,546.0 L379.1,545.4 L386.0,543.1 L392.9,539.3 L399.7,537.1 L406.6,534.8 L413.5,531.0 L420.4,527.4 L427.3,526.0 L434.2,525.2 L441.0,522.4 L447.9,518.6 L454.8,518.9 L461.7,521.6 L468.6,522.8 L475.5,520.4 L482.4,516.6 L489.2,511.7 L496.1,506.2 L503.0,505.0 L509.9,509.4 L516.8,515.2 L523.7,516.9 L530.5,520.3 L537.4,526.3 L544.3,530.0 L551.2,534.4 L558.1,536.9 L565.0,538.9 L571.9,542.6 L578.7,544.6 L585.6,546.2 L592.5,544.4 L599.4,544.8 L606.3,542.9 L613.2,537.8 L620.0,527.5 L626.9,521.6 L633.8,518.6 L640.7,517.9 L647.6,518.4 L654.5,518.5 L661.4,518.6 L668.2,511.6 L675.1,505.2 L682.0,504.0 L688.9,500.9 L695.8,495.5 L702.7,491.2 L709.5,489.6 L716.4,487.5 L723.3,483.3 L730.2,479.2 L737.1,474.5 L744.0,470.2 L750.9,467.6 L757.7,462.2 L764.6,462.6 L771.5,464.7 L778.4,465.8 L785.3,465.7 L792.2,469.6 L799.0,473.1 L805.9,475.9 L812.8,473.1 L819.7,471.4 L826.6,470.6 L833.5,470.5 L840.4,467.6 L847.2,466.6 L854.1,463.6 L861.0,461.3 L867.9,461.1 L874.8,458.7 L881.7,457.4 L888.5,457.3 L895.4,458.3 L902.3,460.0 L909.2,466.6 L916.1,472.3 L923.0,478.3 L929.8,482.4 L936.7,486.0 L943.6,490.4 L950.5,494.7 L957.4,497.2 L964.3,499.9 L971.2,505.0 L978.0,513.1 L984.9,520.4 L991.8,526.1 L998.7,529.9 L1005.6,536.2 L1012.5,539.1 L1019.3,540.3 L1026.2,540.9 L1033.1,541.8 L1040.0,540.4 L1046.9,537.7 L1053.8,537.6 L1060.7,536.6 L1067.5,538.5 L1074.4,541.2 L1081.3,541.0 L1088.2,540.1 L1095.1,539.0 L1102.0,534.2 L1108.8,531.6 L1115.7,534.2 L1122.6,534.6 L1129.5,532.7 L1136.4,529.9 L1143.3,526.5 L1150.2,521.7 L1157.0,517.4 L1163.9,513.7 L1170.8,510.2 L1177.7,509.1 L1184.6,509.8 L1191.5,513.5 L1198.3,518.2 L1205.2,519.7 L1212.1,522.4 L1219.0,524.2 L1225.9,521.1 L1232.8,518.1 L1239.7,515.5 L1246.5,513.4 L1253.4,513.7 L1260.3,513.8 L1267.2,515.2 L1274.1,518.4 L1281.0,520.8 L1287.8,524.5 L1294.7,526.0 L1301.6,531.1 L1308.5,536.6 L1315.4,540.6 L1322.3,542.8 L1329.1,545.0 L1336.0,548.1 L1342.9,550.6 L1349.8,552.7 L1356.7,553.5 L1363.6,549.6 L1370.5,546.5 L1377.3,545.0" fill="none" stroke="#2196f3" stroke-width="1.4" stroke-linejoin="round"/>
<path d="M12.4,522.1 L14.2,521.4 L21.1,520.5 L28.0,519.9 L34.9,518.9 L41.7,517.7 L48.6,516.2 L55.5,514.0 L62.4,509.7 L69.3,504.0 L76.2,499.2 L83.1,495.3 L89.9,493.2 L96.8,491.9 L103.7,491.6 L110.6,492.7 L117.5,494.5 L124.4,496.4 L131.2,498.8 L138.1,501.4 L145.0,504.0 L151.9,506.4 L158.8,509.7 L165.7,514.0 L172.6,518.3 L179.4,522.0 L186.3,525.7 L193.2,529.2 L200.1,532.9 L207.0,537.2 L213.9,541.1 L220.7,545.5 L227.6,549.8 L234.5,553.9 L241.4,557.4 L248.3,560.4 L255.2,563.2 L262.1,564.3 L268.9,565.0 L275.8,565.9 L282.7,566.5 L289.6,566.5 L296.5,565.4 L303.4,563.7 L310.2,561.7 L317.1,560.0 L324.0,559.1 L330.9,558.5 L337.8,558.3 L344.7,558.1 L351.6,557.1 L358.4,555.7 L365.3,554.3 L372.2,553.0 L379.1,551.6 L386.0,550.1 L392.9,548.2 L399.7,546.1 L406.6,543.9 L413.5,541.6 L420.4,539.1 L427.3,536.6 L434.2,534.1 L441.0,531.4 L447.9,529.2 L454.8,527.8 L461.7,526.8 L468.6,525.9 L475.5,524.6 L482.4,522.8 L489.2,520.6 L496.1,517.9 L503.0,515.6 L509.9,514.4 L516.8,514.4 L523.7,514.6 L530.5,515.9 L537.4,517.7 L544.3,519.8 L551.2,522.4 L558.1,525.2 L565.0,528.0 L571.9,530.9 L578.7,533.7 L585.6,536.0 L592.5,538.2 L599.4,539.6 L606.3,540.6 L613.2,540.1 L620.0,538.1 L626.9,534.9 L633.8,531.7 L640.7,529.3 L647.6,527.3 L654.5,525.5 L661.4,523.8 L668.2,521.3 L675.1,518.5 L682.0,515.4 L688.9,512.2 L695.8,508.8 L702.7,505.3 L709.5,502.1 L716.4,498.9 L723.3,495.8 L730.2,492.5 L737.1,488.9 L744.0,485.4 L750.9,482.0 L757.7,478.6 L764.6,475.9 L771.5,473.6 L778.4,472.1 L785.3,470.9 L792.2,470.9 L799.0,471.2 L805.9,472.3 L812.8,472.5 L819.7,472.3 L826.6,472.0 L833.5,471.6 L840.4,471.0 L847.2,470.1 L854.1,468.8 L861.0,467.6 L867.9,466.3 L874.8,465.0 L881.7,463.7 L888.5,462.5 L895.4,461.7 L902.3,461.3 L909.2,462.2 L916.1,464.0 L923.0,466.6 L929.8,469.6 L936.7,473.1 L943.6,476.8 L950.5,480.2 L957.4,483.6 L964.3,487.4 L971.2,491.4 L978.0,495.6 L984.9,500.1 L991.8,504.7 L998.7,509.6 L1005.6,514.8 L1012.5,519.9 L1019.3,523.9 L1026.2,527.3 L1033.1,530.1 L1040.0,532.1 L1046.9,533.3 L1053.8,534.2 L1060.7,535.0 L1067.5,535.8 L1074.4,536.8 L1081.3,537.6 L1088.2,538.2 L1095.1,538.1 L1102.0,537.3 L1108.8,536.8 L1115.7,536.2 L1122.6,535.7 L1129.5,535.0 L1136.4,534.1 L1143.3,532.7 L1150.2,530.6 L1157.0,528.0 L1163.9,525.4 L1170.8,522.7 L1177.7,519.7 L1184.6,517.6 L1191.5,516.6 L1198.3,517.0 L1205.2,517.8 L1212.1,518.8 L1219.0,519.5 L1225.9,519.8 L1232.8,519.4 L1239.7,518.6 L1246.5,517.6 L1253.4,516.8 L1260.3,516.1 L1267.2,516.0 L1274.1,516.5 L1281.0,517.2 L1287.8,518.2 L1294.7,519.9 L1301.6,522.8 L1308.5,525.7 L1315.4,528.6 L1322.3,531.4 L1329.1,534.1 L1336.0,536.9 L1342.9,539.7 L1349.8,542.1 L1356.7,544.1 L1363.6,545.2 L1370.5,545.7 L1377.3,545.9" fill="none" stroke="#ff6d00" stroke-width="1.4" stroke-linejoin="round"/>
</g>
<line x1="12" y1="298.5" x2="1524" y2="298.5" stroke="#e3e6ee" stroke-width="1"/>
<line x1="12" y1="442.6" x2="1524" y2="442.6" stroke="#e3e6ee" stroke-width="1"/>
<rect x="11.5" y="11.5" width="1512.5" height="607.0" fill="none" stroke="#e3e6ee" stroke-width="1.5"/>
<g transform="translate(12.2,630.7) scale(0.611)" fill="#131722"><path d="M14 22H7V11H0V4h14v18zM28 22h-8l7.5-18h8L28 22z"/><circle cx="20" cy="8" r="4"/></g>
</svg>
<span class="t" style="left:21.50px;top:23.13px;font-size:13px;color:#242833;letter-spacing:-0.079px;">NZD/USD Spot, 1D</span>
<span class="t" style="left:142.00px;top:23.13px;font-size:13px;color:#242833;letter-spacing:-1.612px;">O</span>
<span class="t" style="left:151.30px;top:23.13px;font-size:13px;color:#f23645;letter-spacing:0.016px;">0.60250</span>
<span class="t" style="left:207.70px;top:23.13px;font-size:13px;color:#242833;letter-spacing:-1.088px;">H</span>
<span class="t" style="left:216.80px;top:23.13px;font-size:13px;color:#f23645;letter-spacing:0.088px;">0.60320</span>
<span class="t" style="left:274.40px;top:23.13px;font-size:13px;color:#242833;letter-spacing:-1.629px;">L</span>
<span class="t" style="left:280.60px;top:23.13px;font-size:13px;color:#f23645;letter-spacing:0.016px;">0.59850</span>
<span class="t" style="left:337.00px;top:23.13px;font-size:13px;color:#242833;letter-spacing:-1.388px;">C</span>
<span class="t" style="left:345.50px;top:23.13px;font-size:13px;color:#f23645;letter-spacing:-0.112px;">0.60121</span>
<span class="t" style="left:403.00px;top:23.13px;font-size:13px;color:#f23645;letter-spacing:-0.160px;">−0.00130</span>
<span class="t" style="left:462.60px;top:23.13px;font-size:13px;color:#f23645;letter-spacing:-0.339px;">(−0.21%)</span>
<span class="t" style="left:21.50px;top:42.13px;font-size:13px;color:#242833;letter-spacing:0.275px;">MA (20, close, 0)</span>
<span class="t" style="left:133.00px;top:42.13px;font-size:13px;color:#2196f3;letter-spacing:0.188px;">0.60434</span>
<span class="t" style="left:21.50px;top:61.23px;font-size:13px;color:#242833;letter-spacing:0.274px;">MA (100, close, 0)</span>
<span class="t" style="left:140.50px;top:61.23px;font-size:13px;color:#2962ff;letter-spacing:0.145px;">0.61380</span>
<span class="t" style="left:21.50px;top:80.23px;font-size:13px;color:#242833;letter-spacing:0.274px;">MA (200, close, 0)</span>
<span class="t" style="left:140.50px;top:80.23px;font-size:13px;color:#2e1bf0;letter-spacing:-0.027px;">0.60691</span>
<span class="t" style="left:21.30px;top:309.94px;font-size:13px;color:#242833;letter-spacing:-0.250px;">RSI (14)</span>
<span class="t" style="left:77.00px;top:309.94px;font-size:13px;color:#7e57c2;letter-spacing:0.134px;">43.17</span>
<span class="t" style="left:21.30px;top:454.24px;font-size:13px;color:#242833;letter-spacing:0.195px;">MACD (12, 26, close, 9)</span>
<span class="t" style="left:173.60px;top:454.24px;font-size:13px;color:#26a69a;letter-spacing:0.083px;">0.00011</span>
<span class="t" style="left:230.40px;top:454.24px;font-size:13px;color:#2196f3;letter-spacing:-0.035px;">−0.00343</span>
<span class="t" style="left:294.40px;top:454.24px;font-size:13px;color:#ff6d00;letter-spacing:0.003px;">−0.00355</span>
<span class="t" style="left:1458.20px;top:38.18px;font-size:13.5px;color:#242833;letter-spacing:-0.142px;">0.64000</span>
<span class="t" style="left:1458.20px;top:74.68px;font-size:13.5px;color:#242833;letter-spacing:-0.142px;">0.63000</span>
<span class="t" style="left:1458.20px;top:111.18px;font-size:13.5px;color:#242833;letter-spacing:-0.142px;">0.62000</span>
<span class="t" style="left:1458.20px;top:220.68px;font-size:13.5px;color:#242833;letter-spacing:-0.142px;">0.59000</span>
<span class="t" style="left:1458.20px;top:257.18px;font-size:13.5px;color:#242833;letter-spacing:-0.142px;">0.58000</span>
<span class="t" style="left:1458.20px;top:293.28px;font-size:13.5px;color:#242833;letter-spacing:0.104px;clip-path:inset(5.92px 0 0 0);">80.00</span>
<span class="t" style="left:1458.20px;top:342.98px;font-size:13.5px;color:#242833;letter-spacing:0.104px;">60.00</span>
<span class="t" style="left:1458.20px;top:391.88px;font-size:13.5px;color:#242833;letter-spacing:0.104px;">40.00</span>
<span class="t" style="left:1458.20px;top:469.18px;font-size:13.5px;color:#242833;letter-spacing:-0.071px;">0.00500</span>
<span class="t" style="left:1453.00px;top:550.18px;font-size:13.5px;color:#242833;letter-spacing:-0.397px;">−0.00500</span>
<span class="t" style="left:140.68px;top:595.63px;font-size:13px;color:#242833;letter-spacing:-0.231px;">Aug</span>
<span class="t" style="left:299.03px;top:595.63px;font-size:13px;color:#242833;letter-spacing:-0.231px;">Sep</span>
<span class="t" style="left:445.01px;top:595.63px;font-size:13px;color:#242833;letter-spacing:-0.202px;">Oct</span>
<span class="t" style="left:595.06px;top:595.63px;font-size:13px;color:#242833;letter-spacing:-0.231px;">Nov</span>
<span class="t" style="left:746.52px;top:595.63px;font-size:13px;color:#242833;letter-spacing:-0.231px;">Dec</span>
<span class="t" style="left:886.98px;top:595.63px;font-size:13px;color:#242833;letter-spacing:0.434px;font-weight:bold;">2024</span>
<span class="t" style="left:1049.79px;top:595.63px;font-size:13px;color:#242833;letter-spacing:-0.224px;">Feb</span>
<span class="t" style="left:1194.37px;top:595.63px;font-size:13px;color:#242833;letter-spacing:-0.224px;">Mar</span>
<span class="t" style="left:1339.99px;top:595.63px;font-size:13px;color:#242833;letter-spacing:-0.202px;">Apr</span>
<span class="t" style="left:1439.0px;top:595.63px;font-size:13px;color:#242833;clip-path:inset(0 4.4px 0 0)">19</span>
<span class="t" style="left:39.00px;top:631.18px;font-size:14.5px;color:#242833;letter-spacing:0.019px;">TradingView</span>
<svg width="1536" height="659" viewBox="0 0 1536 659" style="position:absolute;left:0;top:0">
<rect x="1449" y="119.5" width="64" height="18.80000000000001" rx="2" fill="#2962ff"/>
<rect x="1449" y="138.3" width="64" height="19.399999999999977" rx="2" fill="#2e1bf0"/>
<rect x="1449" y="157.7" width="64" height="19.30000000000001" rx="2" fill="#2196f3"/>
<rect x="1449" y="177" width="64" height="19.19999999999999" rx="2" fill="#f23645"/>
<rect x="1449" y="382.9" width="49.299999999999955" height="18.700000000000045" rx="2" fill="#7e57c2"/>
<rect x="1449" y="506.6" width="64" height="19.100000000000023" rx="2" fill="#26a69a"/>
<rect x="1449" y="535.3" width="71.29999999999995" height="18.90000000000009" rx="2" fill="#2196f3"/>
<rect x="1449" y="554.8" width="71.29999999999995" height="19.200000000000045" rx="2" fill="#ff6d00"/>
</svg>
<span class="t w" style="left:1458.20px;top:121.58px;font-size:13.5px;letter-spacing:-0.142px;">0.61380</span>
<span class="t w" style="left:1458.20px;top:140.68px;font-size:13.5px;letter-spacing:-0.285px;">0.60691</span>
<span class="t w" style="left:1458.20px;top:160.08px;font-size:13.5px;letter-spacing:-0.142px;">0.60434</span>
<span class="t w" style="left:1458.20px;top:179.28px;font-size:13.5px;letter-spacing:-0.356px;">0.60121</span>
<span class="t w" style="left:1458.20px;top:384.98px;font-size:13.5px;letter-spacing:-0.096px;">43.17</span>
<span class="t w" style="left:1458.20px;top:508.88px;font-size:13.5px;letter-spacing:0.073px;">0.00011</span>
<span class="t w" style="left:1456.50px;top:537.48px;font-size:13.5px;letter-spacing:0.015px;">−0.00343</span>
<span class="t w" style="left:1456.50px;top:557.08px;font-size:13.5px;letter-spacing:0.015px;">−0.00355</span>
</body></html>
